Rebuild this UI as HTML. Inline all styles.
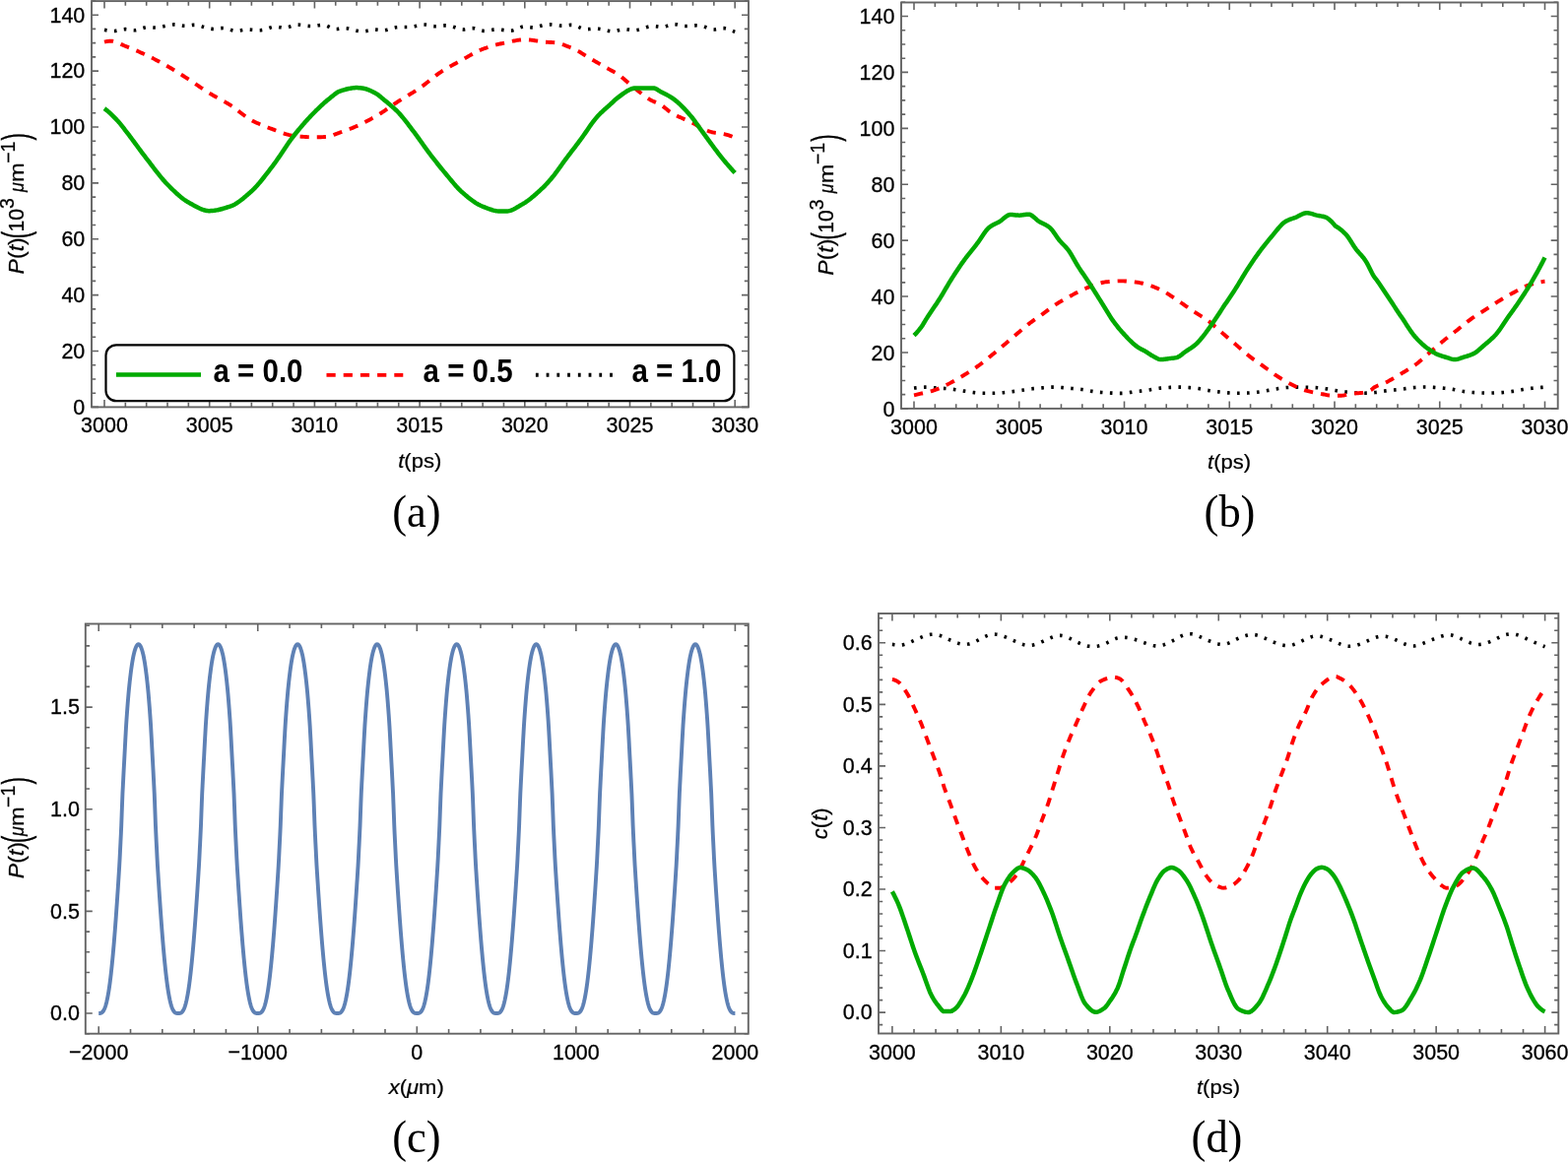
<!DOCTYPE html><html><head><meta charset="utf-8"><title>Figure</title><style>html,body{margin:0;padding:0;background:#fff;overflow:hidden}svg{display:block}</style></head><body><svg width="1592" height="1180" viewBox="0 0 1592 1180" font-family="'Liberation Sans', Arial, sans-serif" font-size="21.5">
<rect width="1592" height="1180" fill="#fff"/>
<path d="M106 413.4v-7.4M106 1.1v7.4M127.34 413.4v-4.6M127.34 1.1v4.6M148.68 413.4v-4.6M148.68 1.1v4.6M170.02 413.4v-4.6M170.02 1.1v4.6M191.36 413.4v-4.6M191.36 1.1v4.6M212.7 413.4v-7.4M212.7 1.1v7.4M234.04 413.4v-4.6M234.04 1.1v4.6M255.38 413.4v-4.6M255.38 1.1v4.6M276.72 413.4v-4.6M276.72 1.1v4.6M298.06 413.4v-4.6M298.06 1.1v4.6M319.4 413.4v-7.4M319.4 1.1v7.4M340.74 413.4v-4.6M340.74 1.1v4.6M362.08 413.4v-4.6M362.08 1.1v4.6M383.42 413.4v-4.6M383.42 1.1v4.6M404.76 413.4v-4.6M404.76 1.1v4.6M426.1 413.4v-7.4M426.1 1.1v7.4M447.44 413.4v-4.6M447.44 1.1v4.6M468.78 413.4v-4.6M468.78 1.1v4.6M490.12 413.4v-4.6M490.12 1.1v4.6M511.46 413.4v-4.6M511.46 1.1v4.6M532.8 413.4v-7.4M532.8 1.1v7.4M554.14 413.4v-4.6M554.14 1.1v4.6M575.48 413.4v-4.6M575.48 1.1v4.6M596.82 413.4v-4.6M596.82 1.1v4.6M618.16 413.4v-4.6M618.16 1.1v4.6M639.5 413.4v-7.4M639.5 1.1v7.4M660.84 413.4v-4.6M660.84 1.1v4.6M682.18 413.4v-4.6M682.18 1.1v4.6M703.52 413.4v-4.6M703.52 1.1v4.6M724.86 413.4v-4.6M724.86 1.1v4.6M746.2 413.4v-7.4M746.2 1.1v7.4M93 413.4h7.0M760 413.4h-7.0M93 399.18h4.2M760 399.18h-4.2M93 384.96h4.2M760 384.96h-4.2M93 370.74h4.2M760 370.74h-4.2M93 356.51h7.0M760 356.51h-7.0M93 342.29h4.2M760 342.29h-4.2M93 328.07h4.2M760 328.07h-4.2M93 313.85h4.2M760 313.85h-4.2M93 299.63h7.0M760 299.63h-7.0M93 285.41h4.2M760 285.41h-4.2M93 271.18h4.2M760 271.18h-4.2M93 256.96h4.2M760 256.96h-4.2M93 242.74h7.0M760 242.74h-7.0M93 228.52h4.2M760 228.52h-4.2M93 214.3h4.2M760 214.3h-4.2M93 200.08h4.2M760 200.08h-4.2M93 185.86h7.0M760 185.86h-7.0M93 171.63h4.2M760 171.63h-4.2M93 157.41h4.2M760 157.41h-4.2M93 143.19h4.2M760 143.19h-4.2M93 128.97h7.0M760 128.97h-7.0M93 114.75h4.2M760 114.75h-4.2M93 100.53h4.2M760 100.53h-4.2M93 86.31h4.2M760 86.31h-4.2M93 72.08h7.0M760 72.08h-7.0M93 57.86h4.2M760 57.86h-4.2M93 43.64h4.2M760 43.64h-4.2M93 29.42h4.2M760 29.42h-4.2M93 15.2h7.0M760 15.2h-7.0M93 0.98h4.2M760 0.98h-4.2" stroke="#646464" stroke-width="1.6" fill="none"/>
<rect x="93" y="1.1" width="667" height="412.3" stroke="#646464" stroke-width="1.9" fill="none"/>
<g stroke="#000" stroke-width="0.3">
<text transform="translate(106,439.3) scale(1.0,1.06)" text-anchor="middle">3000</text>
<text transform="translate(212.7,439.3) scale(1.0,1.06)" text-anchor="middle">3005</text>
<text transform="translate(319.4,439.3) scale(1.0,1.06)" text-anchor="middle">3010</text>
<text transform="translate(426.1,439.3) scale(1.0,1.06)" text-anchor="middle">3015</text>
<text transform="translate(532.8,439.3) scale(1.0,1.06)" text-anchor="middle">3020</text>
<text transform="translate(639.5,439.3) scale(1.0,1.06)" text-anchor="middle">3025</text>
<text transform="translate(746.2,439.3) scale(1.0,1.06)" text-anchor="middle">3030</text>
<text transform="translate(86.3,420.74) scale(1.0,1.06)" text-anchor="end">0</text>
<text transform="translate(86.3,363.85) scale(1.0,1.06)" text-anchor="end">20</text>
<text transform="translate(86.3,306.97) scale(1.0,1.06)" text-anchor="end">40</text>
<text transform="translate(86.3,250.08) scale(1.0,1.06)" text-anchor="end">60</text>
<text transform="translate(86.3,193.2) scale(1.0,1.06)" text-anchor="end">80</text>
<text transform="translate(86.3,136.31) scale(1.0,1.06)" text-anchor="end">100</text>
<text transform="translate(86.3,79.42) scale(1.0,1.06)" text-anchor="end">120</text>
<text transform="translate(86.3,22.54) scale(1.0,1.06)" text-anchor="end">140</text>
</g>
<path d="M928 414.9v-7.4M928 2.5v7.4M949.35 414.9v-4.6M949.35 2.5v4.6M970.7 414.9v-4.6M970.7 2.5v4.6M992.05 414.9v-4.6M992.05 2.5v4.6M1013.4 414.9v-4.6M1013.4 2.5v4.6M1034.75 414.9v-7.4M1034.75 2.5v7.4M1056.1 414.9v-4.6M1056.1 2.5v4.6M1077.45 414.9v-4.6M1077.45 2.5v4.6M1098.8 414.9v-4.6M1098.8 2.5v4.6M1120.15 414.9v-4.6M1120.15 2.5v4.6M1141.5 414.9v-7.4M1141.5 2.5v7.4M1162.85 414.9v-4.6M1162.85 2.5v4.6M1184.2 414.9v-4.6M1184.2 2.5v4.6M1205.55 414.9v-4.6M1205.55 2.5v4.6M1226.9 414.9v-4.6M1226.9 2.5v4.6M1248.25 414.9v-7.4M1248.25 2.5v7.4M1269.6 414.9v-4.6M1269.6 2.5v4.6M1290.95 414.9v-4.6M1290.95 2.5v4.6M1312.3 414.9v-4.6M1312.3 2.5v4.6M1333.65 414.9v-4.6M1333.65 2.5v4.6M1355 414.9v-7.4M1355 2.5v7.4M1376.35 414.9v-4.6M1376.35 2.5v4.6M1397.7 414.9v-4.6M1397.7 2.5v4.6M1419.05 414.9v-4.6M1419.05 2.5v4.6M1440.4 414.9v-4.6M1440.4 2.5v4.6M1461.75 414.9v-7.4M1461.75 2.5v7.4M1483.1 414.9v-4.6M1483.1 2.5v4.6M1504.45 414.9v-4.6M1504.45 2.5v4.6M1525.8 414.9v-4.6M1525.8 2.5v4.6M1547.15 414.9v-4.6M1547.15 2.5v4.6M1568.5 414.9v-7.4M1568.5 2.5v7.4M915 414.9h7.0M1581.7 414.9h-7.0M915 400.67h4.2M1581.7 400.67h-4.2M915 386.44h4.2M1581.7 386.44h-4.2M915 372.21h4.2M1581.7 372.21h-4.2M915 357.99h7.0M1581.7 357.99h-7.0M915 343.76h4.2M1581.7 343.76h-4.2M915 329.53h4.2M1581.7 329.53h-4.2M915 315.3h4.2M1581.7 315.3h-4.2M915 301.07h7.0M1581.7 301.07h-7.0M915 286.84h4.2M1581.7 286.84h-4.2M915 272.62h4.2M1581.7 272.62h-4.2M915 258.39h4.2M1581.7 258.39h-4.2M915 244.16h7.0M1581.7 244.16h-7.0M915 229.93h4.2M1581.7 229.93h-4.2M915 215.7h4.2M1581.7 215.7h-4.2M915 201.47h4.2M1581.7 201.47h-4.2M915 187.24h7.0M1581.7 187.24h-7.0M915 173.02h4.2M1581.7 173.02h-4.2M915 158.79h4.2M1581.7 158.79h-4.2M915 144.56h4.2M1581.7 144.56h-4.2M915 130.33h7.0M1581.7 130.33h-7.0M915 116.1h4.2M1581.7 116.1h-4.2M915 101.87h4.2M1581.7 101.87h-4.2M915 87.64h4.2M1581.7 87.64h-4.2M915 73.42h7.0M1581.7 73.42h-7.0M915 59.19h4.2M1581.7 59.19h-4.2M915 44.96h4.2M1581.7 44.96h-4.2M915 30.73h4.2M1581.7 30.73h-4.2M915 16.5h7.0M1581.7 16.5h-7.0M915 2.27h4.2M1581.7 2.27h-4.2" stroke="#646464" stroke-width="1.6" fill="none"/>
<rect x="915" y="2.5" width="666.7" height="412.4" stroke="#646464" stroke-width="1.9" fill="none"/>
<g stroke="#000" stroke-width="0.3">
<text transform="translate(928,440.9) scale(1.0,1.06)" text-anchor="middle">3000</text>
<text transform="translate(1034.75,440.9) scale(1.0,1.06)" text-anchor="middle">3005</text>
<text transform="translate(1141.5,440.9) scale(1.0,1.06)" text-anchor="middle">3010</text>
<text transform="translate(1248.25,440.9) scale(1.0,1.06)" text-anchor="middle">3015</text>
<text transform="translate(1355,440.9) scale(1.0,1.06)" text-anchor="middle">3020</text>
<text transform="translate(1461.75,440.9) scale(1.0,1.06)" text-anchor="middle">3025</text>
<text transform="translate(1568.5,440.9) scale(1.0,1.06)" text-anchor="middle">3030</text>
<text transform="translate(908.4,422.84) scale(1.0,1.06)" text-anchor="end">0</text>
<text transform="translate(908.4,365.93) scale(1.0,1.06)" text-anchor="end">20</text>
<text transform="translate(908.4,309.01) scale(1.0,1.06)" text-anchor="end">40</text>
<text transform="translate(908.4,252.1) scale(1.0,1.06)" text-anchor="end">60</text>
<text transform="translate(908.4,195.18) scale(1.0,1.06)" text-anchor="end">80</text>
<text transform="translate(908.4,138.27) scale(1.0,1.06)" text-anchor="end">100</text>
<text transform="translate(908.4,81.36) scale(1.0,1.06)" text-anchor="end">120</text>
<text transform="translate(908.4,24.44) scale(1.0,1.06)" text-anchor="end">140</text>
</g>
<path d="M100.2 1049.7v-7.4M100.2 633.5v7.4M132.51 1049.7v-4.6M132.51 633.5v4.6M164.82 1049.7v-4.6M164.82 633.5v4.6M197.13 1049.7v-4.6M197.13 633.5v4.6M229.44 1049.7v-4.6M229.44 633.5v4.6M261.75 1049.7v-7.4M261.75 633.5v7.4M294.06 1049.7v-4.6M294.06 633.5v4.6M326.37 1049.7v-4.6M326.37 633.5v4.6M358.68 1049.7v-4.6M358.68 633.5v4.6M390.99 1049.7v-4.6M390.99 633.5v4.6M423.3 1049.7v-7.4M423.3 633.5v7.4M455.61 1049.7v-4.6M455.61 633.5v4.6M487.92 1049.7v-4.6M487.92 633.5v4.6M520.23 1049.7v-4.6M520.23 633.5v4.6M552.54 1049.7v-4.6M552.54 633.5v4.6M584.85 1049.7v-7.4M584.85 633.5v7.4M617.16 1049.7v-4.6M617.16 633.5v4.6M649.47 1049.7v-4.6M649.47 633.5v4.6M681.78 1049.7v-4.6M681.78 633.5v4.6M714.09 1049.7v-4.6M714.09 633.5v4.6M746.4 1049.7v-7.4M746.4 633.5v7.4M86.8 1049.73h4.2M759.8 1049.73h-4.2M86.8 1029h7.0M759.8 1029h-7.0M86.8 1008.27h4.2M759.8 1008.27h-4.2M86.8 987.55h4.2M759.8 987.55h-4.2M86.8 966.82h4.2M759.8 966.82h-4.2M86.8 946.09h4.2M759.8 946.09h-4.2M86.8 925.37h7.0M759.8 925.37h-7.0M86.8 904.64h4.2M759.8 904.64h-4.2M86.8 883.91h4.2M759.8 883.91h-4.2M86.8 863.18h4.2M759.8 863.18h-4.2M86.8 842.46h4.2M759.8 842.46h-4.2M86.8 821.73h7.0M759.8 821.73h-7.0M86.8 801h4.2M759.8 801h-4.2M86.8 780.28h4.2M759.8 780.28h-4.2M86.8 759.55h4.2M759.8 759.55h-4.2M86.8 738.82h4.2M759.8 738.82h-4.2M86.8 718.1h7.0M759.8 718.1h-7.0M86.8 697.37h4.2M759.8 697.37h-4.2M86.8 676.64h4.2M759.8 676.64h-4.2M86.8 655.91h4.2M759.8 655.91h-4.2M86.8 635.19h4.2M759.8 635.19h-4.2" stroke="#646464" stroke-width="1.6" fill="none"/>
<rect x="86.8" y="633.5" width="673" height="416.2" stroke="#646464" stroke-width="1.9" fill="none"/>
<g stroke="#000" stroke-width="0.3">
<text transform="translate(100.2,1076) scale(1.0,1.06)" text-anchor="middle">−2000</text>
<text transform="translate(261.75,1076) scale(1.0,1.06)" text-anchor="middle">−1000</text>
<text transform="translate(423.3,1076) scale(1.0,1.06)" text-anchor="middle">0</text>
<text transform="translate(584.85,1076) scale(1.0,1.06)" text-anchor="middle">1000</text>
<text transform="translate(746.4,1076) scale(1.0,1.06)" text-anchor="middle">2000</text>
<text transform="translate(80.9,1036.34) scale(1.0,1.06)" text-anchor="end">0.0</text>
<text transform="translate(80.9,932.7) scale(1.0,1.06)" text-anchor="end">0.5</text>
<text transform="translate(80.9,829.07) scale(1.0,1.06)" text-anchor="end">1.0</text>
<text transform="translate(80.9,725.43) scale(1.0,1.06)" text-anchor="end">1.5</text>
</g>
<path d="M905.9 1049.5v-7.4M905.9 623v7.4M927.99 1049.5v-4.6M927.99 623v4.6M950.08 1049.5v-4.6M950.08 623v4.6M972.17 1049.5v-4.6M972.17 623v4.6M994.26 1049.5v-4.6M994.26 623v4.6M1016.35 1049.5v-7.4M1016.35 623v7.4M1038.44 1049.5v-4.6M1038.44 623v4.6M1060.53 1049.5v-4.6M1060.53 623v4.6M1082.62 1049.5v-4.6M1082.62 623v4.6M1104.71 1049.5v-4.6M1104.71 623v4.6M1126.8 1049.5v-7.4M1126.8 623v7.4M1148.89 1049.5v-4.6M1148.89 623v4.6M1170.98 1049.5v-4.6M1170.98 623v4.6M1193.07 1049.5v-4.6M1193.07 623v4.6M1215.16 1049.5v-4.6M1215.16 623v4.6M1237.25 1049.5v-7.4M1237.25 623v7.4M1259.34 1049.5v-4.6M1259.34 623v4.6M1281.43 1049.5v-4.6M1281.43 623v4.6M1303.52 1049.5v-4.6M1303.52 623v4.6M1325.61 1049.5v-4.6M1325.61 623v4.6M1347.7 1049.5v-7.4M1347.7 623v7.4M1369.79 1049.5v-4.6M1369.79 623v4.6M1391.88 1049.5v-4.6M1391.88 623v4.6M1413.97 1049.5v-4.6M1413.97 623v4.6M1436.06 1049.5v-4.6M1436.06 623v4.6M1458.15 1049.5v-7.4M1458.15 623v7.4M1480.24 1049.5v-4.6M1480.24 623v4.6M1502.33 1049.5v-4.6M1502.33 623v4.6M1524.42 1049.5v-4.6M1524.42 623v4.6M1546.51 1049.5v-4.6M1546.51 623v4.6M1568.6 1049.5v-7.4M1568.6 623v7.4M892 1040.61h4.2M1582.3 1040.61h-4.2M892 1028.1h7.0M1582.3 1028.1h-7.0M892 1015.59h4.2M1582.3 1015.59h-4.2M892 1003.08h4.2M1582.3 1003.08h-4.2M892 990.57h4.2M1582.3 990.57h-4.2M892 978.06h4.2M1582.3 978.06h-4.2M892 965.55h7.0M1582.3 965.55h-7.0M892 953.04h4.2M1582.3 953.04h-4.2M892 940.53h4.2M1582.3 940.53h-4.2M892 928.02h4.2M1582.3 928.02h-4.2M892 915.51h4.2M1582.3 915.51h-4.2M892 903h7.0M1582.3 903h-7.0M892 890.49h4.2M1582.3 890.49h-4.2M892 877.98h4.2M1582.3 877.98h-4.2M892 865.47h4.2M1582.3 865.47h-4.2M892 852.96h4.2M1582.3 852.96h-4.2M892 840.45h7.0M1582.3 840.45h-7.0M892 827.94h4.2M1582.3 827.94h-4.2M892 815.43h4.2M1582.3 815.43h-4.2M892 802.92h4.2M1582.3 802.92h-4.2M892 790.41h4.2M1582.3 790.41h-4.2M892 777.9h7.0M1582.3 777.9h-7.0M892 765.39h4.2M1582.3 765.39h-4.2M892 752.88h4.2M1582.3 752.88h-4.2M892 740.37h4.2M1582.3 740.37h-4.2M892 727.86h4.2M1582.3 727.86h-4.2M892 715.35h7.0M1582.3 715.35h-7.0M892 702.84h4.2M1582.3 702.84h-4.2M892 690.33h4.2M1582.3 690.33h-4.2M892 677.82h4.2M1582.3 677.82h-4.2M892 665.31h4.2M1582.3 665.31h-4.2M892 652.8h7.0M1582.3 652.8h-7.0M892 640.29h4.2M1582.3 640.29h-4.2M892 627.78h4.2M1582.3 627.78h-4.2" stroke="#646464" stroke-width="1.6" fill="none"/>
<rect x="892" y="623" width="690.3" height="426.5" stroke="#646464" stroke-width="1.9" fill="none"/>
<g stroke="#000" stroke-width="0.3">
<text transform="translate(905.9,1076) scale(1.0,1.06)" text-anchor="middle">3000</text>
<text transform="translate(1016.35,1076) scale(1.0,1.06)" text-anchor="middle">3010</text>
<text transform="translate(1126.8,1076) scale(1.0,1.06)" text-anchor="middle">3020</text>
<text transform="translate(1237.25,1076) scale(1.0,1.06)" text-anchor="middle">3030</text>
<text transform="translate(1347.7,1076) scale(1.0,1.06)" text-anchor="middle">3040</text>
<text transform="translate(1458.15,1076) scale(1.0,1.06)" text-anchor="middle">3050</text>
<text transform="translate(1568.6,1076) scale(1.0,1.06)" text-anchor="middle">3060</text>
<text transform="translate(885.7,1035.44) scale(1.0,1.06)" text-anchor="end">0.0</text>
<text transform="translate(885.7,972.89) scale(1.0,1.06)" text-anchor="end">0.1</text>
<text transform="translate(885.7,910.34) scale(1.0,1.06)" text-anchor="end">0.2</text>
<text transform="translate(885.7,847.79) scale(1.0,1.06)" text-anchor="end">0.3</text>
<text transform="translate(885.7,785.24) scale(1.0,1.06)" text-anchor="end">0.4</text>
<text transform="translate(885.7,722.69) scale(1.0,1.06)" text-anchor="end">0.5</text>
<text transform="translate(885.7,660.14) scale(1.0,1.06)" text-anchor="end">0.6</text>
</g>
<path d="M106.00 30.39 L107.00 30.58 L108.00 30.76 L109.00 30.94 L110.00 31.10 L111.00 31.25 L112.00 31.37 L113.00 31.45 L114.00 31.50 L115.00 31.51 L116.00 31.46 L117.00 31.36 L118.00 31.20 L119.00 31.01 L120.00 30.80 L121.00 30.57 L122.00 30.34 L123.00 30.12 L124.00 29.93 L125.00 29.78 L126.00 29.68 L127.00 29.64 L128.00 29.67 L129.00 29.76 L130.00 29.90 L131.00 30.07 L132.00 30.26 L133.00 30.44 L134.00 30.59 L135.00 30.71 L136.00 30.77 L137.00 30.77 L138.00 30.67 L139.00 30.50 L140.00 30.25 L141.00 29.96 L142.00 29.64 L143.00 29.30 L144.00 28.95 L145.00 28.63 L146.00 28.34 L147.00 28.09 L148.00 27.91 L149.00 27.80 L150.00 27.75 L151.00 27.74 L152.00 27.76 L153.00 27.80 L154.00 27.86 L155.00 27.92 L156.00 27.97 L157.00 27.99 L158.00 27.99 L159.00 27.94 L160.00 27.86 L161.00 27.75 L162.00 27.61 L163.00 27.45 L164.00 27.26 L165.00 27.06 L166.00 26.84 L167.00 26.61 L168.00 26.38 L169.00 26.14 L170.00 25.91 L171.00 25.68 L172.00 25.47 L173.00 25.28 L174.00 25.13 L175.00 25.00 L176.00 24.92 L177.00 24.89 L178.00 24.91 L179.00 24.99 L180.00 25.11 L181.00 25.27 L182.00 25.45 L183.00 25.65 L184.00 25.83 L185.00 26.01 L186.00 26.15 L187.00 26.25 L188.00 26.30 L189.00 26.29 L190.00 26.22 L191.00 26.10 L192.00 25.96 L193.00 25.81 L194.00 25.65 L195.00 25.51 L196.00 25.40 L197.00 25.34 L198.00 25.33 L199.00 25.39 L200.00 25.52 L201.00 25.71 L202.00 25.96 L203.00 26.24 L204.00 26.55 L205.00 26.87 L206.00 27.21 L207.00 27.55 L208.00 27.88 L209.00 28.18 L210.00 28.46 L211.00 28.71 L212.00 28.93 L213.00 29.11 L214.00 29.25 L215.00 29.36 L216.00 29.42 L217.00 29.44 L218.00 29.41 L219.00 29.34 L220.00 29.22 L221.00 29.09 L222.00 28.94 L223.00 28.80 L224.00 28.67 L225.00 28.58 L226.00 28.52 L227.00 28.53 L228.00 28.60 L229.00 28.75 L230.00 28.98 L231.00 29.26 L232.00 29.58 L233.00 29.92 L234.00 30.26 L235.00 30.59 L236.00 30.89 L237.00 31.14 L238.00 31.32 L239.00 31.42 L240.00 31.44 L241.00 31.39 L242.00 31.29 L243.00 31.14 L244.00 30.97 L245.00 30.78 L246.00 30.59 L247.00 30.41 L248.00 30.26 L249.00 30.15 L250.00 30.08 L251.00 30.05 L252.00 30.05 L253.00 30.08 L254.00 30.13 L255.00 30.19 L256.00 30.27 L257.00 30.36 L258.00 30.45 L259.00 30.53 L260.00 30.60 L261.00 30.65 L262.00 30.69 L263.00 30.70 L264.00 30.68 L265.00 30.63 L266.00 30.53 L267.00 30.40 L268.00 30.21 L269.00 29.96 L270.00 29.67 L271.00 29.33 L272.00 28.96 L273.00 28.59 L274.00 28.22 L275.00 27.87 L276.00 27.57 L277.00 27.31 L278.00 27.13 L279.00 27.03 L280.00 27.03 L281.00 27.11 L282.00 27.25 L283.00 27.44 L284.00 27.65 L285.00 27.86 L286.00 28.05 L287.00 28.19 L288.00 28.28 L289.00 28.29 L290.00 28.20 L291.00 28.01 L292.00 27.75 L293.00 27.44 L294.00 27.09 L295.00 26.72 L296.00 26.35 L297.00 26.01 L298.00 25.69 L299.00 25.44 L300.00 25.26 L301.00 25.15 L302.00 25.11 L303.00 25.13 L304.00 25.20 L305.00 25.30 L306.00 25.43 L307.00 25.59 L308.00 25.75 L309.00 25.91 L310.00 26.06 L311.00 26.20 L312.00 26.32 L313.00 26.42 L314.00 26.49 L315.00 26.54 L316.00 26.56 L317.00 26.55 L318.00 26.51 L319.00 26.43 L320.00 26.32 L321.00 26.17 L322.00 25.99 L323.00 25.82 L324.00 25.65 L325.00 25.50 L326.00 25.39 L327.00 25.34 L328.00 25.35 L329.00 25.45 L330.00 25.64 L331.00 25.94 L332.00 26.33 L333.00 26.77 L334.00 27.24 L335.00 27.73 L336.00 28.19 L337.00 28.62 L338.00 28.99 L339.00 29.26 L340.00 29.42 L341.00 29.49 L342.00 29.47 L343.00 29.39 L344.00 29.27 L345.00 29.12 L346.00 28.96 L347.00 28.81 L348.00 28.69 L349.00 28.61 L350.00 28.60 L351.00 28.65 L352.00 28.75 L353.00 28.91 L354.00 29.10 L355.00 29.32 L356.00 29.57 L357.00 29.84 L358.00 30.11 L359.00 30.38 L360.00 30.65 L361.00 30.91 L362.00 31.14 L363.00 31.36 L364.00 31.55 L365.00 31.70 L366.00 31.81 L367.00 31.89 L368.00 31.91 L369.00 31.88 L370.00 31.79 L371.00 31.65 L372.00 31.47 L373.00 31.25 L374.00 31.02 L375.00 30.79 L376.00 30.56 L377.00 30.36 L378.00 30.20 L379.00 30.08 L380.00 30.03 L381.00 30.04 L382.00 30.11 L383.00 30.21 L384.00 30.34 L385.00 30.47 L386.00 30.60 L387.00 30.71 L388.00 30.79 L389.00 30.81 L390.00 30.77 L391.00 30.65 L392.00 30.47 L393.00 30.24 L394.00 29.96 L395.00 29.66 L396.00 29.34 L397.00 29.02 L398.00 28.71 L399.00 28.43 L400.00 28.17 L401.00 27.96 L402.00 27.80 L403.00 27.67 L404.00 27.58 L405.00 27.51 L406.00 27.47 L407.00 27.45 L408.00 27.44 L409.00 27.44 L410.00 27.45 L411.00 27.45 L412.00 27.45 L413.00 27.43 L414.00 27.41 L415.00 27.37 L416.00 27.32 L417.00 27.24 L418.00 27.14 L419.00 27.01 L420.00 26.85 L421.00 26.66 L422.00 26.43 L423.00 26.19 L424.00 25.94 L425.00 25.70 L426.00 25.47 L427.00 25.27 L428.00 25.11 L429.00 24.99 L430.00 24.94 L431.00 24.96 L432.00 25.05 L433.00 25.20 L434.00 25.39 L435.00 25.61 L436.00 25.84 L437.00 26.08 L438.00 26.30 L439.00 26.49 L440.00 26.64 L441.00 26.73 L442.00 26.76 L443.00 26.73 L444.00 26.66 L445.00 26.56 L446.00 26.43 L447.00 26.30 L448.00 26.17 L449.00 26.05 L450.00 25.95 L451.00 25.89 L452.00 25.88 L453.00 25.90 L454.00 25.97 L455.00 26.08 L456.00 26.23 L457.00 26.42 L458.00 26.64 L459.00 26.89 L460.00 27.17 L461.00 27.48 L462.00 27.82 L463.00 28.17 L464.00 28.52 L465.00 28.86 L466.00 29.18 L467.00 29.46 L468.00 29.68 L469.00 29.84 L470.00 29.93 L471.00 29.92 L472.00 29.84 L473.00 29.70 L474.00 29.51 L475.00 29.31 L476.00 29.10 L477.00 28.91 L478.00 28.76 L479.00 28.66 L480.00 28.65 L481.00 28.72 L482.00 28.89 L483.00 29.14 L484.00 29.44 L485.00 29.77 L486.00 30.12 L487.00 30.46 L488.00 30.78 L489.00 31.06 L490.00 31.27 L491.00 31.40 L492.00 31.45 L493.00 31.42 L494.00 31.34 L495.00 31.20 L496.00 31.03 L497.00 30.85 L498.00 30.65 L499.00 30.46 L500.00 30.29 L501.00 30.15 L502.00 30.06 L503.00 30.00 L504.00 29.98 L505.00 29.99 L506.00 30.03 L507.00 30.10 L508.00 30.18 L509.00 30.29 L510.00 30.41 L511.00 30.55 L512.00 30.69 L513.00 30.83 L514.00 30.96 L515.00 31.08 L516.00 31.16 L517.00 31.20 L518.00 31.19 L519.00 31.13 L520.00 31.00 L521.00 30.79 L522.00 30.50 L523.00 30.14 L524.00 29.73 L525.00 29.29 L526.00 28.84 L527.00 28.39 L528.00 27.97 L529.00 27.60 L530.00 27.30 L531.00 27.08 L532.00 26.96 L533.00 26.94 L534.00 27.00 L535.00 27.11 L536.00 27.26 L537.00 27.43 L538.00 27.60 L539.00 27.75 L540.00 27.86 L541.00 27.91 L542.00 27.88 L543.00 27.77 L544.00 27.60 L545.00 27.38 L546.00 27.11 L547.00 26.82 L548.00 26.51 L549.00 26.21 L550.00 25.91 L551.00 25.64 L552.00 25.41 L553.00 25.22 L554.00 25.08 L555.00 24.97 L556.00 24.91 L557.00 24.87 L558.00 24.87 L559.00 24.90 L560.00 24.96 L561.00 25.05 L562.00 25.15 L563.00 25.28 L564.00 25.42 L565.00 25.56 L566.00 25.70 L567.00 25.84 L568.00 25.95 L569.00 26.05 L570.00 26.12 L571.00 26.15 L572.00 26.13 L573.00 26.07 L574.00 25.97 L575.00 25.84 L576.00 25.71 L577.00 25.58 L578.00 25.47 L579.00 25.40 L580.00 25.37 L581.00 25.41 L582.00 25.52 L583.00 25.73 L584.00 26.01 L585.00 26.37 L586.00 26.78 L587.00 27.21 L588.00 27.66 L589.00 28.10 L590.00 28.52 L591.00 28.89 L592.00 29.20 L593.00 29.43 L594.00 29.58 L595.00 29.66 L596.00 29.67 L597.00 29.64 L598.00 29.57 L599.00 29.48 L600.00 29.38 L601.00 29.28 L602.00 29.20 L603.00 29.14 L604.00 29.11 L605.00 29.11 L606.00 29.15 L607.00 29.21 L608.00 29.31 L609.00 29.43 L610.00 29.58 L611.00 29.75 L612.00 29.95 L613.00 30.17 L614.00 30.41 L615.00 30.66 L616.00 30.91 L617.00 31.15 L618.00 31.37 L619.00 31.56 L620.00 31.71 L621.00 31.80 L622.00 31.84 L623.00 31.80 L624.00 31.69 L625.00 31.50 L626.00 31.27 L627.00 31.01 L628.00 30.73 L629.00 30.45 L630.00 30.19 L631.00 29.96 L632.00 29.78 L633.00 29.67 L634.00 29.63 L635.00 29.67 L636.00 29.77 L637.00 29.92 L638.00 30.09 L639.00 30.27 L640.00 30.44 L641.00 30.60 L642.00 30.72 L643.00 30.79 L644.00 30.79 L645.00 30.72 L646.00 30.59 L647.00 30.41 L648.00 30.18 L649.00 29.92 L650.00 29.63 L651.00 29.32 L652.00 28.99 L653.00 28.67 L654.00 28.34 L655.00 28.03 L656.00 27.73 L657.00 27.46 L658.00 27.21 L659.00 26.99 L660.00 26.81 L661.00 26.67 L662.00 26.58 L663.00 26.54 L664.00 26.55 L665.00 26.63 L666.00 26.74 L667.00 26.88 L668.00 27.03 L669.00 27.17 L670.00 27.29 L671.00 27.38 L672.00 27.41 L673.00 27.37 L674.00 27.25 L675.00 27.03 L676.00 26.75 L677.00 26.41 L678.00 26.04 L679.00 25.67 L680.00 25.32 L681.00 25.01 L682.00 24.77 L683.00 24.61 L684.00 24.55 L685.00 24.59 L686.00 24.70 L687.00 24.88 L688.00 25.10 L689.00 25.35 L690.00 25.61 L691.00 25.86 L692.00 26.09 L693.00 26.29 L694.00 26.43 L695.00 26.51 L696.00 26.55 L697.00 26.55 L698.00 26.51 L699.00 26.45 L700.00 26.37 L701.00 26.28 L702.00 26.18 L703.00 26.08 L704.00 25.98 L705.00 25.90 L706.00 25.84 L707.00 25.81 L708.00 25.80 L709.00 25.83 L710.00 25.90 L711.00 26.01 L712.00 26.18 L713.00 26.40 L714.00 26.69 L715.00 27.03 L716.00 27.41 L717.00 27.82 L718.00 28.24 L719.00 28.64 L720.00 29.02 L721.00 29.36 L722.00 29.64 L723.00 29.83 L724.00 29.94 L725.00 29.95 L726.00 29.87 L727.00 29.73 L728.00 29.55 L729.00 29.35 L730.00 29.13 L731.00 28.94 L732.00 28.77 L733.00 28.65 L734.00 28.61 L735.00 28.65 L736.00 28.76 L737.00 28.95 L738.00 29.19 L739.00 29.49 L740.00 29.83 L741.00 30.21 L742.00 30.61 L743.00 31.03 L744.00 31.46 L745.00 31.89 L746.00 32.31 L746.20 32.39" stroke="#000" stroke-width="3.6" fill="none" stroke-linejoin="round" stroke-linecap="butt" stroke-dasharray="2.6 7.4"/>
<path d="M106.00 42.64 L107.00 42.37 L108.00 42.15 L109.00 41.98 L110.00 41.85 L111.00 41.77 L112.00 41.71 L113.00 41.69 L114.00 41.72 L115.00 41.83 L116.00 42.03 L117.00 42.30 L118.00 42.64 L119.00 43.03 L120.00 43.46 L121.00 43.92 L122.00 44.40 L123.00 44.89 L124.00 45.37 L125.00 45.85 L126.00 46.30 L127.00 46.72 L128.00 47.12 L129.00 47.52 L130.00 47.92 L131.00 48.32 L132.00 48.72 L133.00 49.13 L134.00 49.54 L135.00 49.96 L136.00 50.38 L137.00 50.80 L138.00 51.23 L139.00 51.65 L140.00 52.09 L141.00 52.52 L142.00 52.97 L143.00 53.41 L144.00 53.86 L145.00 54.31 L146.00 54.77 L147.00 55.23 L148.00 55.70 L149.00 56.17 L150.00 56.65 L151.00 57.13 L152.00 57.62 L153.00 58.11 L154.00 58.61 L155.00 59.11 L156.00 59.62 L157.00 60.14 L158.00 60.66 L159.00 61.18 L160.00 61.71 L161.00 62.24 L162.00 62.77 L163.00 63.31 L164.00 63.86 L165.00 64.41 L166.00 64.96 L167.00 65.51 L168.00 66.07 L169.00 66.64 L170.00 67.20 L171.00 67.78 L172.00 68.36 L173.00 68.94 L174.00 69.53 L175.00 70.13 L176.00 70.74 L177.00 71.35 L178.00 71.96 L179.00 72.58 L180.00 73.20 L181.00 73.83 L182.00 74.46 L183.00 75.09 L184.00 75.72 L185.00 76.36 L186.00 77.00 L187.00 77.64 L188.00 78.28 L189.00 78.92 L190.00 79.56 L191.00 80.21 L192.00 80.85 L193.00 81.51 L194.00 82.17 L195.00 82.83 L196.00 83.51 L197.00 84.19 L198.00 84.87 L199.00 85.55 L200.00 86.24 L201.00 86.92 L202.00 87.61 L203.00 88.29 L204.00 88.98 L205.00 89.65 L206.00 90.33 L207.00 91.00 L208.00 91.66 L209.00 92.32 L210.00 92.96 L211.00 93.60 L212.00 94.23 L213.00 94.84 L214.00 95.45 L215.00 96.04 L216.00 96.62 L217.00 97.19 L218.00 97.75 L219.00 98.31 L220.00 98.86 L221.00 99.41 L222.00 99.95 L223.00 100.49 L224.00 101.04 L225.00 101.59 L226.00 102.14 L227.00 102.69 L228.00 103.25 L229.00 103.82 L230.00 104.40 L231.00 104.99 L232.00 105.59 L233.00 106.20 L234.00 106.83 L235.00 107.49 L236.00 108.17 L237.00 108.87 L238.00 109.60 L239.00 110.34 L240.00 111.10 L241.00 111.87 L242.00 112.65 L243.00 113.43 L244.00 114.21 L245.00 114.99 L246.00 115.76 L247.00 116.52 L248.00 117.28 L249.00 118.01 L250.00 118.72 L251.00 119.42 L252.00 120.08 L253.00 120.72 L254.00 121.32 L255.00 121.88 L256.00 122.42 L257.00 122.94 L258.00 123.44 L259.00 123.94 L260.00 124.42 L261.00 124.89 L262.00 125.35 L263.00 125.80 L264.00 126.24 L265.00 126.67 L266.00 127.09 L267.00 127.50 L268.00 127.91 L269.00 128.31 L270.00 128.70 L271.00 129.09 L272.00 129.47 L273.00 129.85 L274.00 130.22 L275.00 130.59 L276.00 130.95 L277.00 131.32 L278.00 131.69 L279.00 132.07 L280.00 132.45 L281.00 132.84 L282.00 133.22 L283.00 133.61 L284.00 133.99 L285.00 134.37 L286.00 134.74 L287.00 135.10 L288.00 135.45 L289.00 135.79 L290.00 136.11 L291.00 136.42 L292.00 136.70 L293.00 136.97 L294.00 137.21 L295.00 137.42 L296.00 137.61 L297.00 137.77 L298.00 137.89 L299.00 138.00 L300.00 138.11 L301.00 138.21 L302.00 138.31 L303.00 138.41 L304.00 138.51 L305.00 138.60 L306.00 138.69 L307.00 138.77 L308.00 138.85 L309.00 138.92 L310.00 138.99 L311.00 139.05 L312.00 139.11 L313.00 139.16 L314.00 139.20 L315.00 139.24 L316.00 139.27 L317.00 139.29 L318.00 139.31 L319.00 139.31 L320.00 139.31 L321.00 139.30 L322.00 139.29 L323.00 139.28 L324.00 139.25 L325.00 139.22 L326.00 139.19 L327.00 139.15 L328.00 139.10 L329.00 139.05 L330.00 138.99 L331.00 138.92 L332.00 138.85 L333.00 138.77 L334.00 138.69 L335.00 138.60 L336.00 138.40 L337.00 138.04 L338.00 137.57 L339.00 137.06 L340.00 136.56 L341.00 136.14 L342.00 135.75 L343.00 135.37 L344.00 134.99 L345.00 134.62 L346.00 134.25 L347.00 133.89 L348.00 133.52 L349.00 133.16 L350.00 132.80 L351.00 132.44 L352.00 132.08 L353.00 131.72 L354.00 131.35 L355.00 130.98 L356.00 130.60 L357.00 130.21 L358.00 129.82 L359.00 129.42 L360.00 129.01 L361.00 128.58 L362.00 128.15 L363.00 127.70 L364.00 127.25 L365.00 126.78 L366.00 126.31 L367.00 125.83 L368.00 125.34 L369.00 124.84 L370.00 124.34 L371.00 123.83 L372.00 123.30 L373.00 122.78 L374.00 122.24 L375.00 121.70 L376.00 121.16 L377.00 120.60 L378.00 120.05 L379.00 119.48 L380.00 118.91 L381.00 118.34 L382.00 117.76 L383.00 117.18 L384.00 116.59 L385.00 115.98 L386.00 115.36 L387.00 114.73 L388.00 114.08 L389.00 113.43 L390.00 112.76 L391.00 112.09 L392.00 111.40 L393.00 110.72 L394.00 110.03 L395.00 109.33 L396.00 108.64 L397.00 107.94 L398.00 107.25 L399.00 106.56 L400.00 105.87 L401.00 105.19 L402.00 104.52 L403.00 103.85 L404.00 103.19 L405.00 102.55 L406.00 101.92 L407.00 101.29 L408.00 100.67 L409.00 100.06 L410.00 99.45 L411.00 98.85 L412.00 98.25 L413.00 97.66 L414.00 97.06 L415.00 96.46 L416.00 95.87 L417.00 95.27 L418.00 94.66 L419.00 94.05 L420.00 93.44 L421.00 92.82 L422.00 92.19 L423.00 91.55 L424.00 90.90 L425.00 90.24 L426.00 89.56 L427.00 88.87 L428.00 88.15 L429.00 87.42 L430.00 86.67 L431.00 85.90 L432.00 85.12 L433.00 84.32 L434.00 83.52 L435.00 82.72 L436.00 81.91 L437.00 81.10 L438.00 80.29 L439.00 79.49 L440.00 78.69 L441.00 77.91 L442.00 77.13 L443.00 76.37 L444.00 75.63 L445.00 74.90 L446.00 74.20 L447.00 73.52 L448.00 72.87 L449.00 72.23 L450.00 71.60 L451.00 70.98 L452.00 70.38 L453.00 69.78 L454.00 69.19 L455.00 68.61 L456.00 68.04 L457.00 67.47 L458.00 66.91 L459.00 66.35 L460.00 65.80 L461.00 65.26 L462.00 64.71 L463.00 64.17 L464.00 63.63 L465.00 63.09 L466.00 62.55 L467.00 62.00 L468.00 61.46 L469.00 60.92 L470.00 60.36 L471.00 59.80 L472.00 59.23 L473.00 58.66 L474.00 58.09 L475.00 57.51 L476.00 56.93 L477.00 56.36 L478.00 55.79 L479.00 55.23 L480.00 54.67 L481.00 54.12 L482.00 53.59 L483.00 53.06 L484.00 52.55 L485.00 52.06 L486.00 51.58 L487.00 51.13 L488.00 50.69 L489.00 50.28 L490.00 49.89 L491.00 49.53 L492.00 49.17 L493.00 48.82 L494.00 48.47 L495.00 48.14 L496.00 47.81 L497.00 47.49 L498.00 47.18 L499.00 46.88 L500.00 46.59 L501.00 46.30 L502.00 46.02 L503.00 45.75 L504.00 45.48 L505.00 45.23 L506.00 44.98 L507.00 44.73 L508.00 44.50 L509.00 44.27 L510.00 44.05 L511.00 43.84 L512.00 43.63 L513.00 43.42 L514.00 43.20 L515.00 42.98 L516.00 42.76 L517.00 42.54 L518.00 42.32 L519.00 42.10 L520.00 41.89 L521.00 41.68 L522.00 41.49 L523.00 41.30 L524.00 41.12 L525.00 40.95 L526.00 40.80 L527.00 40.67 L528.00 40.55 L529.00 40.45 L530.00 40.37 L531.00 40.31 L532.00 40.28 L533.00 40.27 L534.00 40.28 L535.00 40.32 L536.00 40.38 L537.00 40.46 L538.00 40.55 L539.00 40.66 L540.00 40.78 L541.00 40.91 L542.00 41.05 L543.00 41.20 L544.00 41.35 L545.00 41.50 L546.00 41.66 L547.00 41.81 L548.00 41.96 L549.00 42.11 L550.00 42.25 L551.00 42.38 L552.00 42.49 L553.00 42.60 L554.00 42.69 L555.00 42.76 L556.00 42.83 L557.00 42.88 L558.00 42.93 L559.00 42.98 L560.00 43.03 L561.00 43.08 L562.00 43.14 L563.00 43.22 L564.00 43.31 L565.00 43.44 L566.00 43.63 L567.00 43.85 L568.00 44.10 L569.00 44.37 L570.00 44.67 L571.00 45.01 L572.00 45.39 L573.00 45.79 L574.00 46.19 L575.00 46.60 L576.00 46.99 L577.00 47.37 L578.00 47.75 L579.00 48.14 L580.00 48.53 L581.00 48.93 L582.00 49.35 L583.00 49.78 L584.00 50.24 L585.00 50.73 L586.00 51.26 L587.00 51.82 L588.00 52.41 L589.00 53.02 L590.00 53.65 L591.00 54.29 L592.00 54.93 L593.00 55.58 L594.00 56.22 L595.00 56.86 L596.00 57.48 L597.00 58.07 L598.00 58.66 L599.00 59.25 L600.00 59.83 L601.00 60.41 L602.00 60.98 L603.00 61.56 L604.00 62.13 L605.00 62.70 L606.00 63.27 L607.00 63.84 L608.00 64.41 L609.00 64.97 L610.00 65.54 L611.00 66.11 L612.00 66.67 L613.00 67.24 L614.00 67.80 L615.00 68.37 L616.00 68.93 L617.00 69.50 L618.00 70.07 L619.00 70.63 L620.00 71.18 L621.00 71.72 L622.00 72.25 L623.00 72.80 L624.00 73.35 L625.00 73.93 L626.00 74.53 L627.00 75.17 L628.00 75.86 L629.00 76.59 L630.00 77.35 L631.00 78.15 L632.00 78.98 L633.00 79.82 L634.00 80.68 L635.00 81.55 L636.00 82.42 L637.00 83.29 L638.00 84.15 L639.00 84.99 L640.00 85.81 L641.00 86.64 L642.00 87.47 L643.00 88.30 L644.00 89.14 L645.00 89.97 L646.00 90.79 L647.00 91.60 L648.00 92.40 L649.00 93.18 L650.00 93.95 L651.00 94.72 L652.00 95.49 L653.00 96.27 L654.00 97.03 L655.00 97.79 L656.00 98.53 L657.00 99.24 L658.00 99.92 L659.00 100.58 L660.00 101.19 L661.00 101.76 L662.00 102.27 L663.00 102.73 L664.00 103.16 L665.00 103.58 L666.00 103.98 L667.00 104.40 L668.00 104.84 L669.00 105.32 L670.00 105.86 L671.00 106.46 L672.00 107.14 L673.00 107.87 L674.00 108.64 L675.00 109.44 L676.00 110.26 L677.00 111.08 L678.00 111.89 L679.00 112.67 L680.00 113.42 L681.00 114.13 L682.00 114.77 L683.00 115.36 L684.00 115.91 L685.00 116.45 L686.00 116.97 L687.00 117.47 L688.00 117.96 L689.00 118.43 L690.00 118.89 L691.00 119.34 L692.00 119.79 L693.00 120.23 L694.00 120.66 L695.00 121.10 L696.00 121.53 L697.00 121.97 L698.00 122.42 L699.00 122.87 L700.00 123.33 L701.00 123.80 L702.00 124.28 L703.00 124.78 L704.00 125.29 L705.00 125.84 L706.00 126.42 L707.00 127.01 L708.00 127.62 L709.00 128.22 L710.00 128.82 L711.00 129.39 L712.00 129.95 L713.00 130.46 L714.00 130.93 L715.00 131.36 L716.00 131.77 L717.00 132.19 L718.00 132.59 L719.00 132.97 L720.00 133.34 L721.00 133.68 L722.00 133.98 L723.00 134.25 L724.00 134.47 L725.00 134.64 L726.00 134.77 L727.00 134.87 L728.00 134.95 L729.00 135.04 L730.00 135.14 L731.00 135.27 L732.00 135.43 L733.00 135.61 L734.00 135.81 L735.00 136.03 L736.00 136.28 L737.00 136.54 L738.00 136.83 L739.00 137.13 L740.00 137.46 L741.00 137.80 L742.00 138.16 L743.00 138.54 L744.00 138.94 L745.00 139.36 L746.00 139.79 L746.20 139.88" stroke="#ff0000" stroke-width="3.9" fill="none" stroke-linejoin="round" stroke-linecap="butt" stroke-dasharray="9.2 8.0"/>
<path d="M106.00 110.14 L107.00 110.91 L108.00 111.71 L109.00 112.54 L110.00 113.40 L111.00 114.29 L112.00 115.21 L113.00 116.15 L114.00 117.11 L115.00 118.09 L116.00 119.10 L117.00 120.12 L118.00 121.15 L119.00 122.21 L120.00 123.28 L121.00 124.42 L122.00 125.63 L123.00 126.87 L124.00 128.15 L125.00 129.44 L126.00 130.74 L127.00 132.02 L128.00 133.31 L129.00 134.60 L130.00 135.91 L131.00 137.23 L132.00 138.56 L133.00 139.90 L134.00 141.24 L135.00 142.59 L136.00 143.95 L137.00 145.31 L138.00 146.67 L139.00 148.03 L140.00 149.39 L141.00 150.74 L142.00 152.09 L143.00 153.44 L144.00 154.78 L145.00 156.11 L146.00 157.43 L147.00 158.74 L148.00 160.04 L149.00 161.33 L150.00 162.62 L151.00 163.93 L152.00 165.24 L153.00 166.55 L154.00 167.87 L155.00 169.18 L156.00 170.50 L157.00 171.81 L158.00 173.11 L159.00 174.40 L160.00 175.68 L161.00 176.94 L162.00 178.19 L163.00 179.41 L164.00 180.62 L165.00 181.80 L166.00 182.96 L167.00 184.08 L168.00 185.18 L169.00 186.24 L170.00 187.27 L171.00 188.28 L172.00 189.29 L173.00 190.29 L174.00 191.29 L175.00 192.28 L176.00 193.25 L177.00 194.22 L178.00 195.17 L179.00 196.10 L180.00 197.02 L181.00 197.91 L182.00 198.78 L183.00 199.63 L184.00 200.45 L185.00 201.24 L186.00 202.01 L187.00 202.74 L188.00 203.43 L189.00 204.09 L190.00 204.72 L191.00 205.30 L192.00 205.86 L193.00 206.42 L194.00 206.99 L195.00 207.57 L196.00 208.14 L197.00 208.70 L198.00 209.26 L199.00 209.80 L200.00 210.33 L201.00 210.84 L202.00 211.32 L203.00 211.78 L204.00 212.21 L205.00 212.60 L206.00 212.96 L207.00 213.28 L208.00 213.56 L209.00 213.78 L210.00 213.96 L211.00 214.08 L212.00 214.15 L213.00 214.15 L214.00 214.12 L215.00 214.07 L216.00 213.98 L217.00 213.88 L218.00 213.74 L219.00 213.59 L220.00 213.41 L221.00 213.22 L222.00 213.00 L223.00 212.77 L224.00 212.52 L225.00 212.25 L226.00 211.98 L227.00 211.69 L228.00 211.39 L229.00 211.08 L230.00 210.76 L231.00 210.44 L232.00 210.11 L233.00 209.78 L234.00 209.45 L235.00 209.08 L236.00 208.66 L237.00 208.19 L238.00 207.68 L239.00 207.12 L240.00 206.53 L241.00 205.89 L242.00 205.22 L243.00 204.51 L244.00 203.78 L245.00 203.02 L246.00 202.23 L247.00 201.42 L248.00 200.59 L249.00 199.75 L250.00 198.89 L251.00 198.01 L252.00 197.13 L253.00 196.24 L254.00 195.35 L255.00 194.46 L256.00 193.55 L257.00 192.60 L258.00 191.62 L259.00 190.59 L260.00 189.52 L261.00 188.43 L262.00 187.30 L263.00 186.14 L264.00 184.96 L265.00 183.75 L266.00 182.52 L267.00 181.27 L268.00 180.01 L269.00 178.73 L270.00 177.44 L271.00 176.14 L272.00 174.84 L273.00 173.53 L274.00 172.22 L275.00 170.91 L276.00 169.60 L277.00 168.30 L278.00 166.97 L279.00 165.60 L280.00 164.21 L281.00 162.78 L282.00 161.34 L283.00 159.88 L284.00 158.40 L285.00 156.91 L286.00 155.41 L287.00 153.91 L288.00 152.41 L289.00 150.91 L290.00 149.43 L291.00 147.95 L292.00 146.49 L293.00 145.05 L294.00 143.63 L295.00 142.23 L296.00 140.87 L297.00 139.55 L298.00 138.26 L299.00 136.99 L300.00 135.74 L301.00 134.50 L302.00 133.27 L303.00 132.05 L304.00 130.84 L305.00 129.65 L306.00 128.46 L307.00 127.29 L308.00 126.13 L309.00 124.99 L310.00 123.85 L311.00 122.73 L312.00 121.62 L313.00 120.52 L314.00 119.44 L315.00 118.37 L316.00 117.31 L317.00 116.27 L318.00 115.23 L319.00 114.22 L320.00 113.21 L321.00 112.22 L322.00 111.23 L323.00 110.26 L324.00 109.29 L325.00 108.34 L326.00 107.40 L327.00 106.48 L328.00 105.57 L329.00 104.67 L330.00 103.79 L331.00 102.93 L332.00 102.08 L333.00 101.25 L334.00 100.44 L335.00 99.65 L336.00 98.85 L337.00 98.02 L338.00 97.19 L339.00 96.37 L340.00 95.58 L341.00 94.83 L342.00 94.14 L343.00 93.52 L344.00 93.00 L345.00 92.59 L346.00 92.27 L347.00 91.95 L348.00 91.64 L349.00 91.34 L350.00 91.06 L351.00 90.78 L352.00 90.53 L353.00 90.28 L354.00 90.06 L355.00 89.86 L356.00 89.67 L357.00 89.51 L358.00 89.37 L359.00 89.26 L360.00 89.17 L361.00 89.11 L362.00 89.08 L363.00 89.09 L364.00 89.13 L365.00 89.21 L366.00 89.31 L367.00 89.42 L368.00 89.55 L369.00 89.71 L370.00 89.93 L371.00 90.19 L372.00 90.49 L373.00 90.83 L374.00 91.21 L375.00 91.62 L376.00 92.06 L377.00 92.52 L378.00 93.01 L379.00 93.52 L380.00 94.05 L381.00 94.59 L382.00 95.14 L383.00 95.71 L384.00 96.38 L385.00 97.17 L386.00 98.03 L387.00 98.90 L388.00 99.76 L389.00 100.58 L390.00 101.40 L391.00 102.22 L392.00 103.04 L393.00 103.86 L394.00 104.68 L395.00 105.51 L396.00 106.35 L397.00 107.21 L398.00 108.08 L399.00 108.96 L400.00 109.87 L401.00 110.80 L402.00 111.75 L403.00 112.73 L404.00 113.74 L405.00 114.78 L406.00 115.87 L407.00 117.00 L408.00 118.17 L409.00 119.37 L410.00 120.60 L411.00 121.85 L412.00 123.13 L413.00 124.42 L414.00 125.73 L415.00 127.05 L416.00 128.37 L417.00 129.70 L418.00 131.03 L419.00 132.36 L420.00 133.68 L421.00 134.99 L422.00 136.33 L423.00 137.68 L424.00 139.05 L425.00 140.43 L426.00 141.83 L427.00 143.23 L428.00 144.64 L429.00 146.04 L430.00 147.45 L431.00 148.85 L432.00 150.25 L433.00 151.63 L434.00 153.00 L435.00 154.36 L436.00 155.69 L437.00 157.01 L438.00 158.31 L439.00 159.61 L440.00 160.90 L441.00 162.18 L442.00 163.46 L443.00 164.73 L444.00 165.99 L445.00 167.24 L446.00 168.49 L447.00 169.73 L448.00 170.96 L449.00 172.18 L450.00 173.40 L451.00 174.60 L452.00 175.80 L453.00 176.99 L454.00 178.18 L455.00 179.38 L456.00 180.60 L457.00 181.81 L458.00 183.03 L459.00 184.23 L460.00 185.43 L461.00 186.62 L462.00 187.78 L463.00 188.93 L464.00 190.04 L465.00 191.12 L466.00 192.17 L467.00 193.17 L468.00 194.13 L469.00 195.04 L470.00 195.91 L471.00 196.78 L472.00 197.63 L473.00 198.48 L474.00 199.32 L475.00 200.14 L476.00 200.95 L477.00 201.75 L478.00 202.52 L479.00 203.28 L480.00 204.01 L481.00 204.71 L482.00 205.39 L483.00 206.05 L484.00 206.67 L485.00 207.26 L486.00 207.81 L487.00 208.33 L488.00 208.81 L489.00 209.25 L490.00 209.65 L491.00 210.05 L492.00 210.45 L493.00 210.84 L494.00 211.23 L495.00 211.62 L496.00 211.99 L497.00 212.35 L498.00 212.69 L499.00 213.01 L500.00 213.31 L501.00 213.59 L502.00 213.83 L503.00 214.05 L504.00 214.23 L505.00 214.38 L506.00 214.48 L507.00 214.54 L508.00 214.56 L509.00 214.56 L510.00 214.56 L511.00 214.56 L512.00 214.56 L513.00 214.56 L514.00 214.56 L515.00 214.51 L516.00 214.38 L517.00 214.17 L518.00 213.89 L519.00 213.54 L520.00 213.14 L521.00 212.69 L522.00 212.20 L523.00 211.67 L524.00 211.11 L525.00 210.53 L526.00 209.94 L527.00 209.34 L528.00 208.74 L529.00 208.15 L530.00 207.58 L531.00 207.01 L532.00 206.41 L533.00 205.78 L534.00 205.11 L535.00 204.42 L536.00 203.71 L537.00 202.96 L538.00 202.20 L539.00 201.41 L540.00 200.60 L541.00 199.77 L542.00 198.93 L543.00 198.07 L544.00 197.19 L545.00 196.30 L546.00 195.40 L547.00 194.49 L548.00 193.57 L549.00 192.65 L550.00 191.71 L551.00 190.78 L552.00 189.81 L553.00 188.80 L554.00 187.77 L555.00 186.70 L556.00 185.61 L557.00 184.49 L558.00 183.35 L559.00 182.18 L560.00 181.00 L561.00 179.80 L562.00 178.55 L563.00 177.27 L564.00 175.96 L565.00 174.62 L566.00 173.26 L567.00 171.89 L568.00 170.50 L569.00 169.10 L570.00 167.71 L571.00 166.31 L572.00 164.92 L573.00 163.54 L574.00 162.17 L575.00 160.83 L576.00 159.50 L577.00 158.17 L578.00 156.86 L579.00 155.55 L580.00 154.24 L581.00 152.93 L582.00 151.63 L583.00 150.32 L584.00 149.01 L585.00 147.70 L586.00 146.38 L587.00 145.05 L588.00 143.72 L589.00 142.38 L590.00 141.02 L591.00 139.65 L592.00 138.25 L593.00 136.81 L594.00 135.36 L595.00 133.89 L596.00 132.42 L597.00 130.94 L598.00 129.48 L599.00 128.03 L600.00 126.60 L601.00 125.21 L602.00 123.85 L603.00 122.54 L604.00 121.28 L605.00 120.07 L606.00 118.90 L607.00 117.79 L608.00 116.73 L609.00 115.71 L610.00 114.72 L611.00 113.76 L612.00 112.82 L613.00 111.90 L614.00 111.00 L615.00 110.11 L616.00 109.22 L617.00 108.34 L618.00 107.45 L619.00 106.56 L620.00 105.66 L621.00 104.75 L622.00 103.80 L623.00 102.82 L624.00 101.85 L625.00 100.94 L626.00 100.13 L627.00 99.40 L628.00 98.66 L629.00 97.90 L630.00 97.15 L631.00 96.39 L632.00 95.65 L633.00 94.92 L634.00 94.21 L635.00 93.53 L636.00 92.88 L637.00 92.26 L638.00 91.70 L639.00 91.18 L640.00 90.72 L641.00 90.33 L642.00 90.00 L643.00 89.75 L644.00 89.58 L645.00 89.49 L646.00 89.49 L647.00 89.49 L648.00 89.49 L649.00 89.49 L650.00 89.49 L651.00 89.49 L652.00 89.49 L653.00 89.49 L654.00 89.49 L655.00 89.49 L656.00 89.49 L657.00 89.49 L658.00 89.49 L659.00 89.49 L660.00 89.49 L661.00 89.49 L662.00 89.49 L663.00 89.49 L664.00 89.50 L665.00 89.72 L666.00 90.16 L667.00 90.75 L668.00 91.41 L669.00 92.06 L670.00 92.63 L671.00 93.15 L672.00 93.67 L673.00 94.19 L674.00 94.71 L675.00 95.23 L676.00 95.76 L677.00 96.30 L678.00 96.85 L679.00 97.42 L680.00 98.01 L681.00 98.62 L682.00 99.26 L683.00 99.93 L684.00 100.63 L685.00 101.37 L686.00 102.14 L687.00 102.96 L688.00 103.81 L689.00 104.70 L690.00 105.61 L691.00 106.56 L692.00 107.54 L693.00 108.55 L694.00 109.58 L695.00 110.64 L696.00 111.71 L697.00 112.81 L698.00 113.93 L699.00 115.06 L700.00 116.21 L701.00 117.37 L702.00 118.55 L703.00 119.75 L704.00 121.03 L705.00 122.38 L706.00 123.78 L707.00 125.20 L708.00 126.64 L709.00 128.07 L710.00 129.48 L711.00 130.84 L712.00 132.21 L713.00 133.57 L714.00 134.94 L715.00 136.32 L716.00 137.69 L717.00 139.06 L718.00 140.44 L719.00 141.81 L720.00 143.18 L721.00 144.55 L722.00 145.91 L723.00 147.27 L724.00 148.62 L725.00 149.97 L726.00 151.31 L727.00 152.63 L728.00 153.95 L729.00 155.26 L730.00 156.55 L731.00 157.84 L732.00 159.11 L733.00 160.36 L734.00 161.60 L735.00 162.82 L736.00 164.02 L737.00 165.21 L738.00 166.39 L739.00 167.55 L740.00 168.70 L741.00 169.84 L742.00 170.96 L743.00 172.07 L744.00 173.17 L745.00 174.26 L746.00 175.35 L746.20 175.56" stroke="#00aa00" stroke-width="4.5" fill="none" stroke-linejoin="round" stroke-linecap="butt"/>
<path d="M928.00 394.08 L929.00 393.97 L930.00 393.85 L931.00 393.74 L932.00 393.63 L933.00 393.53 L934.00 393.43 L935.00 393.35 L936.00 393.28 L937.00 393.22 L938.00 393.18 L939.00 393.17 L940.00 393.17 L941.00 393.19 L942.00 393.23 L943.00 393.29 L944.00 393.36 L945.00 393.44 L946.00 393.53 L947.00 393.62 L948.00 393.71 L949.00 393.80 L950.00 393.88 L951.00 393.96 L952.00 394.03 L953.00 394.09 L954.00 394.15 L955.00 394.21 L956.00 394.26 L957.00 394.32 L958.00 394.38 L959.00 394.44 L960.00 394.51 L961.00 394.59 L962.00 394.69 L963.00 394.78 L964.00 394.89 L965.00 395.01 L966.00 395.13 L967.00 395.26 L968.00 395.40 L969.00 395.54 L970.00 395.69 L971.00 395.84 L972.00 395.99 L973.00 396.15 L974.00 396.31 L975.00 396.47 L976.00 396.63 L977.00 396.79 L978.00 396.95 L979.00 397.11 L980.00 397.28 L981.00 397.44 L982.00 397.60 L983.00 397.76 L984.00 397.91 L985.00 398.06 L986.00 398.21 L987.00 398.35 L988.00 398.48 L989.00 398.61 L990.00 398.72 L991.00 398.83 L992.00 398.92 L993.00 399.00 L994.00 399.07 L995.00 399.12 L996.00 399.17 L997.00 399.20 L998.00 399.22 L999.00 399.24 L1000.00 399.25 L1001.00 399.25 L1002.00 399.25 L1003.00 399.25 L1004.00 399.25 L1005.00 399.25 L1006.00 399.25 L1007.00 399.24 L1008.00 399.24 L1009.00 399.22 L1010.00 399.21 L1011.00 399.18 L1012.00 399.15 L1013.00 399.11 L1014.00 399.06 L1015.00 399.00 L1016.00 398.93 L1017.00 398.85 L1018.00 398.77 L1019.00 398.67 L1020.00 398.57 L1021.00 398.46 L1022.00 398.35 L1023.00 398.24 L1024.00 398.12 L1025.00 398.01 L1026.00 397.89 L1027.00 397.77 L1028.00 397.65 L1029.00 397.53 L1030.00 397.41 L1031.00 397.28 L1032.00 397.15 L1033.00 397.02 L1034.00 396.88 L1035.00 396.74 L1036.00 396.58 L1037.00 396.43 L1038.00 396.27 L1039.00 396.10 L1040.00 395.93 L1041.00 395.77 L1042.00 395.60 L1043.00 395.44 L1044.00 395.29 L1045.00 395.14 L1046.00 395.01 L1047.00 394.88 L1048.00 394.77 L1049.00 394.66 L1050.00 394.56 L1051.00 394.47 L1052.00 394.38 L1053.00 394.30 L1054.00 394.22 L1055.00 394.14 L1056.00 394.05 L1057.00 393.97 L1058.00 393.88 L1059.00 393.78 L1060.00 393.69 L1061.00 393.59 L1062.00 393.50 L1063.00 393.42 L1064.00 393.34 L1065.00 393.27 L1066.00 393.21 L1067.00 393.17 L1068.00 393.14 L1069.00 393.13 L1070.00 393.14 L1071.00 393.16 L1072.00 393.19 L1073.00 393.23 L1074.00 393.28 L1075.00 393.34 L1076.00 393.41 L1077.00 393.49 L1078.00 393.57 L1079.00 393.65 L1080.00 393.74 L1081.00 393.82 L1082.00 393.92 L1083.00 394.01 L1084.00 394.10 L1085.00 394.20 L1086.00 394.29 L1087.00 394.38 L1088.00 394.47 L1089.00 394.56 L1090.00 394.65 L1091.00 394.73 L1092.00 394.82 L1093.00 394.91 L1094.00 395.00 L1095.00 395.10 L1096.00 395.21 L1097.00 395.32 L1098.00 395.45 L1099.00 395.59 L1100.00 395.75 L1101.00 395.91 L1102.00 396.09 L1103.00 396.28 L1104.00 396.47 L1105.00 396.66 L1106.00 396.85 L1107.00 397.04 L1108.00 397.22 L1109.00 397.39 L1110.00 397.56 L1111.00 397.71 L1112.00 397.84 L1113.00 397.97 L1114.00 398.08 L1115.00 398.19 L1116.00 398.29 L1117.00 398.37 L1118.00 398.46 L1119.00 398.53 L1120.00 398.61 L1121.00 398.67 L1122.00 398.74 L1123.00 398.80 L1124.00 398.87 L1125.00 398.92 L1126.00 398.98 L1127.00 399.03 L1128.00 399.08 L1129.00 399.13 L1130.00 399.18 L1131.00 399.22 L1132.00 399.27 L1133.00 399.31 L1134.00 399.34 L1135.00 399.37 L1136.00 399.38 L1137.00 399.39 L1138.00 399.39 L1139.00 399.36 L1140.00 399.33 L1141.00 399.27 L1142.00 399.19 L1143.00 399.09 L1144.00 398.98 L1145.00 398.84 L1146.00 398.70 L1147.00 398.54 L1148.00 398.39 L1149.00 398.23 L1150.00 398.07 L1151.00 397.92 L1152.00 397.77 L1153.00 397.64 L1154.00 397.52 L1155.00 397.41 L1156.00 397.31 L1157.00 397.22 L1158.00 397.13 L1159.00 397.03 L1160.00 396.93 L1161.00 396.83 L1162.00 396.71 L1163.00 396.58 L1164.00 396.44 L1165.00 396.28 L1166.00 396.10 L1167.00 395.92 L1168.00 395.73 L1169.00 395.54 L1170.00 395.35 L1171.00 395.16 L1172.00 394.97 L1173.00 394.80 L1174.00 394.63 L1175.00 394.48 L1176.00 394.35 L1177.00 394.22 L1178.00 394.11 L1179.00 394.01 L1180.00 393.92 L1181.00 393.84 L1182.00 393.76 L1183.00 393.69 L1184.00 393.63 L1185.00 393.57 L1186.00 393.51 L1187.00 393.45 L1188.00 393.39 L1189.00 393.34 L1190.00 393.30 L1191.00 393.25 L1192.00 393.22 L1193.00 393.19 L1194.00 393.16 L1195.00 393.15 L1196.00 393.14 L1197.00 393.15 L1198.00 393.16 L1199.00 393.17 L1200.00 393.20 L1201.00 393.23 L1202.00 393.27 L1203.00 393.32 L1204.00 393.37 L1205.00 393.42 L1206.00 393.48 L1207.00 393.54 L1208.00 393.61 L1209.00 393.68 L1210.00 393.76 L1211.00 393.85 L1212.00 393.94 L1213.00 394.04 L1214.00 394.16 L1215.00 394.28 L1216.00 394.42 L1217.00 394.58 L1218.00 394.75 L1219.00 394.93 L1220.00 395.13 L1221.00 395.33 L1222.00 395.54 L1223.00 395.75 L1224.00 395.95 L1225.00 396.16 L1226.00 396.35 L1227.00 396.54 L1228.00 396.71 L1229.00 396.87 L1230.00 397.02 L1231.00 397.16 L1232.00 397.30 L1233.00 397.42 L1234.00 397.54 L1235.00 397.66 L1236.00 397.77 L1237.00 397.88 L1238.00 397.99 L1239.00 398.10 L1240.00 398.21 L1241.00 398.32 L1242.00 398.43 L1243.00 398.54 L1244.00 398.64 L1245.00 398.74 L1246.00 398.83 L1247.00 398.91 L1248.00 398.99 L1249.00 399.05 L1250.00 399.11 L1251.00 399.15 L1252.00 399.19 L1253.00 399.22 L1254.00 399.24 L1255.00 399.25 L1256.00 399.26 L1257.00 399.26 L1258.00 399.26 L1259.00 399.25 L1260.00 399.24 L1261.00 399.23 L1262.00 399.21 L1263.00 399.20 L1264.00 399.17 L1265.00 399.14 L1266.00 399.11 L1267.00 399.06 L1268.00 399.02 L1269.00 398.96 L1270.00 398.90 L1271.00 398.82 L1272.00 398.74 L1273.00 398.65 L1274.00 398.55 L1275.00 398.44 L1276.00 398.33 L1277.00 398.20 L1278.00 398.07 L1279.00 397.93 L1280.00 397.78 L1281.00 397.62 L1282.00 397.46 L1283.00 397.29 L1284.00 397.12 L1285.00 396.94 L1286.00 396.76 L1287.00 396.57 L1288.00 396.38 L1289.00 396.19 L1290.00 396.01 L1291.00 395.82 L1292.00 395.63 L1293.00 395.45 L1294.00 395.27 L1295.00 395.09 L1296.00 394.92 L1297.00 394.75 L1298.00 394.59 L1299.00 394.43 L1300.00 394.28 L1301.00 394.14 L1302.00 394.01 L1303.00 393.89 L1304.00 393.78 L1305.00 393.68 L1306.00 393.58 L1307.00 393.50 L1308.00 393.42 L1309.00 393.35 L1310.00 393.29 L1311.00 393.24 L1312.00 393.20 L1313.00 393.16 L1314.00 393.13 L1315.00 393.10 L1316.00 393.09 L1317.00 393.08 L1318.00 393.07 L1319.00 393.07 L1320.00 393.08 L1321.00 393.09 L1322.00 393.10 L1323.00 393.12 L1324.00 393.14 L1325.00 393.17 L1326.00 393.19 L1327.00 393.23 L1328.00 393.26 L1329.00 393.30 L1330.00 393.34 L1331.00 393.39 L1332.00 393.44 L1333.00 393.49 L1334.00 393.54 L1335.00 393.60 L1336.00 393.66 L1337.00 393.73 L1338.00 393.80 L1339.00 393.88 L1340.00 393.97 L1341.00 394.06 L1342.00 394.17 L1343.00 394.29 L1344.00 394.41 L1345.00 394.55 L1346.00 394.71 L1347.00 394.87 L1348.00 395.04 L1349.00 395.22 L1350.00 395.41 L1351.00 395.60 L1352.00 395.80 L1353.00 395.99 L1354.00 396.18 L1355.00 396.37 L1356.00 396.55 L1357.00 396.72 L1358.00 396.88 L1359.00 397.04 L1360.00 397.19 L1361.00 397.34 L1362.00 397.48 L1363.00 397.61 L1364.00 397.74 L1365.00 397.86 L1366.00 397.98 L1367.00 398.10 L1368.00 398.21 L1369.00 398.32 L1370.00 398.43 L1371.00 398.53 L1372.00 398.62 L1373.00 398.71 L1374.00 398.79 L1375.00 398.87 L1376.00 398.94 L1377.00 399.00 L1378.00 399.06 L1379.00 399.10 L1380.00 399.14 L1381.00 399.17 L1382.00 399.19 L1383.00 399.20 L1384.00 399.20 L1385.00 399.20 L1386.00 399.18 L1387.00 399.16 L1388.00 399.13 L1389.00 399.09 L1390.00 399.04 L1391.00 398.99 L1392.00 398.92 L1393.00 398.85 L1394.00 398.76 L1395.00 398.66 L1396.00 398.56 L1397.00 398.44 L1398.00 398.32 L1399.00 398.18 L1400.00 398.03 L1401.00 397.87 L1402.00 397.71 L1403.00 397.54 L1404.00 397.37 L1405.00 397.21 L1406.00 397.05 L1407.00 396.89 L1408.00 396.75 L1409.00 396.61 L1410.00 396.49 L1411.00 396.39 L1412.00 396.29 L1413.00 396.20 L1414.00 396.11 L1415.00 396.03 L1416.00 395.94 L1417.00 395.86 L1418.00 395.77 L1419.00 395.68 L1420.00 395.57 L1421.00 395.46 L1422.00 395.33 L1423.00 395.20 L1424.00 395.06 L1425.00 394.92 L1426.00 394.78 L1427.00 394.63 L1428.00 394.48 L1429.00 394.34 L1430.00 394.20 L1431.00 394.07 L1432.00 393.95 L1433.00 393.83 L1434.00 393.72 L1435.00 393.61 L1436.00 393.52 L1437.00 393.43 L1438.00 393.35 L1439.00 393.28 L1440.00 393.22 L1441.00 393.16 L1442.00 393.12 L1443.00 393.08 L1444.00 393.06 L1445.00 393.04 L1446.00 393.03 L1447.00 393.03 L1448.00 393.04 L1449.00 393.06 L1450.00 393.08 L1451.00 393.11 L1452.00 393.16 L1453.00 393.21 L1454.00 393.26 L1455.00 393.32 L1456.00 393.39 L1457.00 393.46 L1458.00 393.54 L1459.00 393.62 L1460.00 393.70 L1461.00 393.78 L1462.00 393.87 L1463.00 393.95 L1464.00 394.04 L1465.00 394.13 L1466.00 394.22 L1467.00 394.31 L1468.00 394.41 L1469.00 394.51 L1470.00 394.63 L1471.00 394.75 L1472.00 394.88 L1473.00 395.03 L1474.00 395.19 L1475.00 395.36 L1476.00 395.55 L1477.00 395.75 L1478.00 395.95 L1479.00 396.16 L1480.00 396.36 L1481.00 396.57 L1482.00 396.77 L1483.00 396.97 L1484.00 397.15 L1485.00 397.33 L1486.00 397.48 L1487.00 397.63 L1488.00 397.77 L1489.00 397.89 L1490.00 398.01 L1491.00 398.12 L1492.00 398.22 L1493.00 398.31 L1494.00 398.40 L1495.00 398.48 L1496.00 398.56 L1497.00 398.63 L1498.00 398.70 L1499.00 398.76 L1500.00 398.81 L1501.00 398.87 L1502.00 398.91 L1503.00 398.95 L1504.00 398.99 L1505.00 399.02 L1506.00 399.05 L1507.00 399.07 L1508.00 399.08 L1509.00 399.09 L1510.00 399.10 L1511.00 399.10 L1512.00 399.10 L1513.00 399.09 L1514.00 399.07 L1515.00 399.05 L1516.00 399.03 L1517.00 399.00 L1518.00 398.97 L1519.00 398.93 L1520.00 398.88 L1521.00 398.83 L1522.00 398.78 L1523.00 398.72 L1524.00 398.65 L1525.00 398.58 L1526.00 398.50 L1527.00 398.42 L1528.00 398.33 L1529.00 398.23 L1530.00 398.13 L1531.00 398.02 L1532.00 397.91 L1533.00 397.78 L1534.00 397.65 L1535.00 397.51 L1536.00 397.36 L1537.00 397.21 L1538.00 397.04 L1539.00 396.87 L1540.00 396.68 L1541.00 396.50 L1542.00 396.31 L1543.00 396.12 L1544.00 395.93 L1545.00 395.75 L1546.00 395.57 L1547.00 395.39 L1548.00 395.23 L1549.00 395.07 L1550.00 394.92 L1551.00 394.78 L1552.00 394.65 L1553.00 394.52 L1554.00 394.40 L1555.00 394.29 L1556.00 394.19 L1557.00 394.09 L1558.00 393.99 L1559.00 393.90 L1560.00 393.81 L1561.00 393.72 L1562.00 393.64 L1563.00 393.56 L1564.00 393.48 L1565.00 393.40 L1566.00 393.33 L1567.00 393.25 L1568.00 393.18 L1568.50 393.14" stroke="#000" stroke-width="3.6" fill="none" stroke-linejoin="round" stroke-linecap="butt" stroke-dasharray="2.6 7.4"/>
<path d="M928.00 401.28 L929.00 401.06 L930.00 400.85 L931.00 400.63 L932.00 400.41 L933.00 400.18 L934.00 399.96 L935.00 399.72 L936.00 399.49 L937.00 399.26 L938.00 399.04 L939.00 398.81 L940.00 398.58 L941.00 398.35 L942.00 398.11 L943.00 397.86 L944.00 397.61 L945.00 397.34 L946.00 397.06 L947.00 396.76 L948.00 396.45 L949.00 396.11 L950.00 395.76 L951.00 395.38 L952.00 394.99 L953.00 394.58 L954.00 394.15 L955.00 393.71 L956.00 393.26 L957.00 392.80 L958.00 392.33 L959.00 391.85 L960.00 391.36 L961.00 390.87 L962.00 390.38 L963.00 389.88 L964.00 389.38 L965.00 388.87 L966.00 388.35 L967.00 387.82 L968.00 387.27 L969.00 386.71 L970.00 386.14 L971.00 385.56 L972.00 384.97 L973.00 384.38 L974.00 383.79 L975.00 383.18 L976.00 382.58 L977.00 381.98 L978.00 381.37 L979.00 380.76 L980.00 380.16 L981.00 379.55 L982.00 378.93 L983.00 378.31 L984.00 377.68 L985.00 377.05 L986.00 376.41 L987.00 375.77 L988.00 375.11 L989.00 374.45 L990.00 373.77 L991.00 373.09 L992.00 372.39 L993.00 371.68 L994.00 370.95 L995.00 370.21 L996.00 369.45 L997.00 368.67 L998.00 367.89 L999.00 367.10 L1000.00 366.30 L1001.00 365.49 L1002.00 364.68 L1003.00 363.87 L1004.00 363.05 L1005.00 362.24 L1006.00 361.43 L1007.00 360.61 L1008.00 359.80 L1009.00 358.98 L1010.00 358.15 L1011.00 357.33 L1012.00 356.49 L1013.00 355.66 L1014.00 354.82 L1015.00 353.98 L1016.00 353.13 L1017.00 352.29 L1018.00 351.45 L1019.00 350.60 L1020.00 349.75 L1021.00 348.90 L1022.00 348.04 L1023.00 347.18 L1024.00 346.32 L1025.00 345.46 L1026.00 344.60 L1027.00 343.73 L1028.00 342.87 L1029.00 342.01 L1030.00 341.15 L1031.00 340.30 L1032.00 339.44 L1033.00 338.60 L1034.00 337.75 L1035.00 336.90 L1036.00 336.04 L1037.00 335.19 L1038.00 334.34 L1039.00 333.49 L1040.00 332.64 L1041.00 331.81 L1042.00 330.98 L1043.00 330.17 L1044.00 329.37 L1045.00 328.59 L1046.00 327.82 L1047.00 327.07 L1048.00 326.33 L1049.00 325.61 L1050.00 324.89 L1051.00 324.18 L1052.00 323.48 L1053.00 322.78 L1054.00 322.08 L1055.00 321.38 L1056.00 320.69 L1057.00 319.99 L1058.00 319.29 L1059.00 318.58 L1060.00 317.86 L1061.00 317.14 L1062.00 316.41 L1063.00 315.67 L1064.00 314.93 L1065.00 314.19 L1066.00 313.45 L1067.00 312.71 L1068.00 311.99 L1069.00 311.27 L1070.00 310.56 L1071.00 309.87 L1072.00 309.19 L1073.00 308.53 L1074.00 307.89 L1075.00 307.27 L1076.00 306.66 L1077.00 306.06 L1078.00 305.46 L1079.00 304.88 L1080.00 304.31 L1081.00 303.74 L1082.00 303.18 L1083.00 302.62 L1084.00 302.08 L1085.00 301.53 L1086.00 300.99 L1087.00 300.46 L1088.00 299.92 L1089.00 299.39 L1090.00 298.85 L1091.00 298.32 L1092.00 297.79 L1093.00 297.27 L1094.00 296.74 L1095.00 296.23 L1096.00 295.72 L1097.00 295.23 L1098.00 294.74 L1099.00 294.26 L1100.00 293.80 L1101.00 293.35 L1102.00 292.92 L1103.00 292.50 L1104.00 292.09 L1105.00 291.70 L1106.00 291.31 L1107.00 290.94 L1108.00 290.58 L1109.00 290.24 L1110.00 289.90 L1111.00 289.57 L1112.00 289.23 L1113.00 288.89 L1114.00 288.54 L1115.00 288.20 L1116.00 287.87 L1117.00 287.55 L1118.00 287.26 L1119.00 287.00 L1120.00 286.76 L1121.00 286.57 L1122.00 286.42 L1123.00 286.31 L1124.00 286.21 L1125.00 286.11 L1126.00 286.01 L1127.00 285.92 L1128.00 285.84 L1129.00 285.76 L1130.00 285.68 L1131.00 285.61 L1132.00 285.55 L1133.00 285.50 L1134.00 285.45 L1135.00 285.41 L1136.00 285.38 L1137.00 285.36 L1138.00 285.35 L1139.00 285.35 L1140.00 285.36 L1141.00 285.39 L1142.00 285.43 L1143.00 285.48 L1144.00 285.55 L1145.00 285.62 L1146.00 285.71 L1147.00 285.81 L1148.00 285.91 L1149.00 286.02 L1150.00 286.13 L1151.00 286.26 L1152.00 286.38 L1153.00 286.51 L1154.00 286.64 L1155.00 286.77 L1156.00 286.92 L1157.00 287.09 L1158.00 287.29 L1159.00 287.51 L1160.00 287.74 L1161.00 288.00 L1162.00 288.26 L1163.00 288.55 L1164.00 288.84 L1165.00 289.14 L1166.00 289.45 L1167.00 289.76 L1168.00 290.08 L1169.00 290.42 L1170.00 290.78 L1171.00 291.15 L1172.00 291.54 L1173.00 291.95 L1174.00 292.38 L1175.00 292.82 L1176.00 293.27 L1177.00 293.73 L1178.00 294.21 L1179.00 294.70 L1180.00 295.19 L1181.00 295.70 L1182.00 296.22 L1183.00 296.77 L1184.00 297.34 L1185.00 297.94 L1186.00 298.56 L1187.00 299.21 L1188.00 299.86 L1189.00 300.53 L1190.00 301.21 L1191.00 301.89 L1192.00 302.58 L1193.00 303.27 L1194.00 303.95 L1195.00 304.63 L1196.00 305.29 L1197.00 305.96 L1198.00 306.64 L1199.00 307.33 L1200.00 308.01 L1201.00 308.71 L1202.00 309.40 L1203.00 310.10 L1204.00 310.80 L1205.00 311.50 L1206.00 312.20 L1207.00 312.89 L1208.00 313.59 L1209.00 314.27 L1210.00 314.96 L1211.00 315.63 L1212.00 316.30 L1213.00 316.95 L1214.00 317.59 L1215.00 318.22 L1216.00 318.84 L1217.00 319.45 L1218.00 320.06 L1219.00 320.67 L1220.00 321.29 L1221.00 321.92 L1222.00 322.55 L1223.00 323.20 L1224.00 323.87 L1225.00 324.56 L1226.00 325.28 L1227.00 326.03 L1228.00 326.80 L1229.00 327.61 L1230.00 328.44 L1231.00 329.29 L1232.00 330.15 L1233.00 331.03 L1234.00 331.92 L1235.00 332.82 L1236.00 333.71 L1237.00 334.61 L1238.00 335.50 L1239.00 336.39 L1240.00 337.26 L1241.00 338.12 L1242.00 338.97 L1243.00 339.83 L1244.00 340.69 L1245.00 341.54 L1246.00 342.40 L1247.00 343.26 L1248.00 344.12 L1249.00 344.97 L1250.00 345.83 L1251.00 346.69 L1252.00 347.54 L1253.00 348.40 L1254.00 349.26 L1255.00 350.12 L1256.00 350.98 L1257.00 351.85 L1258.00 352.73 L1259.00 353.62 L1260.00 354.50 L1261.00 355.38 L1262.00 356.26 L1263.00 357.13 L1264.00 357.99 L1265.00 358.85 L1266.00 359.69 L1267.00 360.51 L1268.00 361.32 L1269.00 362.11 L1270.00 362.88 L1271.00 363.63 L1272.00 364.37 L1273.00 365.09 L1274.00 365.81 L1275.00 366.51 L1276.00 367.22 L1277.00 367.91 L1278.00 368.60 L1279.00 369.30 L1280.00 369.99 L1281.00 370.69 L1282.00 371.39 L1283.00 372.10 L1284.00 372.82 L1285.00 373.55 L1286.00 374.28 L1287.00 375.02 L1288.00 375.76 L1289.00 376.50 L1290.00 377.24 L1291.00 377.97 L1292.00 378.69 L1293.00 379.41 L1294.00 380.11 L1295.00 380.80 L1296.00 381.47 L1297.00 382.13 L1298.00 382.76 L1299.00 383.39 L1300.00 384.01 L1301.00 384.62 L1302.00 385.23 L1303.00 385.82 L1304.00 386.41 L1305.00 386.98 L1306.00 387.55 L1307.00 388.10 L1308.00 388.64 L1309.00 389.18 L1310.00 389.69 L1311.00 390.20 L1312.00 390.69 L1313.00 391.18 L1314.00 391.67 L1315.00 392.16 L1316.00 392.64 L1317.00 393.12 L1318.00 393.58 L1319.00 394.03 L1320.00 394.47 L1321.00 394.89 L1322.00 395.29 L1323.00 395.67 L1324.00 396.02 L1325.00 396.35 L1326.00 396.64 L1327.00 396.92 L1328.00 397.18 L1329.00 397.43 L1330.00 397.66 L1331.00 397.88 L1332.00 398.10 L1333.00 398.31 L1334.00 398.51 L1335.00 398.70 L1336.00 398.89 L1337.00 399.08 L1338.00 399.26 L1339.00 399.45 L1340.00 399.63 L1341.00 399.83 L1342.00 400.04 L1343.00 400.26 L1344.00 400.48 L1345.00 400.70 L1346.00 400.91 L1347.00 401.11 L1348.00 401.29 L1349.00 401.44 L1350.00 401.56 L1351.00 401.64 L1352.00 401.68 L1353.00 401.68 L1354.00 401.68 L1355.00 401.68 L1356.00 401.68 L1357.00 401.68 L1358.00 401.68 L1359.00 401.68 L1360.00 401.68 L1361.00 401.68 L1362.00 401.68 L1363.00 401.65 L1364.00 401.50 L1365.00 401.31 L1366.00 401.15 L1367.00 400.99 L1368.00 400.82 L1369.00 400.65 L1370.00 400.47 L1371.00 400.30 L1372.00 400.12 L1373.00 399.96 L1374.00 399.80 L1375.00 399.65 L1376.00 399.51 L1377.00 399.39 L1378.00 399.29 L1379.00 399.20 L1380.00 399.12 L1381.00 399.03 L1382.00 398.94 L1383.00 398.84 L1384.00 398.71 L1385.00 398.55 L1386.00 398.33 L1387.00 398.06 L1388.00 397.74 L1389.00 397.37 L1390.00 396.94 L1391.00 396.47 L1392.00 395.95 L1393.00 395.36 L1394.00 394.40 L1395.00 393.53 L1396.00 392.95 L1397.00 392.43 L1398.00 391.96 L1399.00 391.54 L1400.00 391.15 L1401.00 390.78 L1402.00 390.42 L1403.00 390.06 L1404.00 389.70 L1405.00 389.31 L1406.00 388.88 L1407.00 388.42 L1408.00 387.92 L1409.00 387.40 L1410.00 386.87 L1411.00 386.32 L1412.00 385.76 L1413.00 385.19 L1414.00 384.61 L1415.00 384.02 L1416.00 383.42 L1417.00 382.82 L1418.00 382.22 L1419.00 381.61 L1420.00 381.01 L1421.00 380.41 L1422.00 379.82 L1423.00 379.23 L1424.00 378.64 L1425.00 378.05 L1426.00 377.46 L1427.00 376.87 L1428.00 376.28 L1429.00 375.67 L1430.00 375.07 L1431.00 374.45 L1432.00 373.82 L1433.00 373.18 L1434.00 372.52 L1435.00 371.85 L1436.00 371.16 L1437.00 370.46 L1438.00 369.73 L1439.00 368.97 L1440.00 368.17 L1441.00 367.35 L1442.00 366.51 L1443.00 365.64 L1444.00 364.77 L1445.00 363.88 L1446.00 362.98 L1447.00 362.08 L1448.00 361.18 L1449.00 360.28 L1450.00 359.39 L1451.00 358.52 L1452.00 357.66 L1453.00 356.80 L1454.00 355.93 L1455.00 355.06 L1456.00 354.19 L1457.00 353.33 L1458.00 352.46 L1459.00 351.59 L1460.00 350.73 L1461.00 349.86 L1462.00 349.01 L1463.00 348.16 L1464.00 347.32 L1465.00 346.49 L1466.00 345.66 L1467.00 344.85 L1468.00 344.04 L1469.00 343.24 L1470.00 342.45 L1471.00 341.67 L1472.00 340.88 L1473.00 340.10 L1474.00 339.33 L1475.00 338.55 L1476.00 337.78 L1477.00 337.00 L1478.00 336.23 L1479.00 335.45 L1480.00 334.67 L1481.00 333.88 L1482.00 333.08 L1483.00 332.27 L1484.00 331.46 L1485.00 330.65 L1486.00 329.84 L1487.00 329.03 L1488.00 328.23 L1489.00 327.43 L1490.00 326.64 L1491.00 325.87 L1492.00 325.11 L1493.00 324.36 L1494.00 323.64 L1495.00 322.93 L1496.00 322.25 L1497.00 321.57 L1498.00 320.91 L1499.00 320.26 L1500.00 319.62 L1501.00 318.99 L1502.00 318.37 L1503.00 317.74 L1504.00 317.12 L1505.00 316.50 L1506.00 315.87 L1507.00 315.25 L1508.00 314.61 L1509.00 313.97 L1510.00 313.32 L1511.00 312.67 L1512.00 312.02 L1513.00 311.36 L1514.00 310.71 L1515.00 310.05 L1516.00 309.40 L1517.00 308.75 L1518.00 308.11 L1519.00 307.46 L1520.00 306.83 L1521.00 306.20 L1522.00 305.59 L1523.00 304.98 L1524.00 304.37 L1525.00 303.78 L1526.00 303.18 L1527.00 302.59 L1528.00 302.01 L1529.00 301.43 L1530.00 300.85 L1531.00 300.29 L1532.00 299.72 L1533.00 299.16 L1534.00 298.61 L1535.00 298.06 L1536.00 297.52 L1537.00 296.98 L1538.00 296.44 L1539.00 295.89 L1540.00 295.33 L1541.00 294.77 L1542.00 294.21 L1543.00 293.66 L1544.00 293.11 L1545.00 292.58 L1546.00 292.07 L1547.00 291.58 L1548.00 291.11 L1549.00 290.68 L1550.00 290.28 L1551.00 289.93 L1552.00 289.60 L1553.00 289.28 L1554.00 288.97 L1555.00 288.66 L1556.00 288.36 L1557.00 288.07 L1558.00 287.80 L1559.00 287.53 L1560.00 287.27 L1561.00 287.03 L1562.00 286.80 L1563.00 286.59 L1564.00 286.40 L1565.00 286.22 L1566.00 286.06 L1567.00 285.93 L1568.00 285.81 L1568.50 285.76" stroke="#ff0000" stroke-width="3.9" fill="none" stroke-linejoin="round" stroke-linecap="butt" stroke-dasharray="9.2 8.0"/>
<path d="M928.00 340.68 L929.00 339.72 L930.00 338.68 L931.00 337.57 L932.00 336.40 L933.00 335.18 L934.00 333.90 L935.00 332.58 L936.00 331.19 L937.00 329.67 L938.00 328.04 L939.00 326.37 L940.00 324.69 L941.00 323.06 L942.00 321.50 L943.00 319.97 L944.00 318.47 L945.00 316.98 L946.00 315.51 L947.00 314.04 L948.00 312.57 L949.00 311.10 L950.00 309.62 L951.00 308.13 L952.00 306.61 L953.00 305.07 L954.00 303.49 L955.00 301.88 L956.00 300.23 L957.00 298.56 L958.00 296.87 L959.00 295.16 L960.00 293.45 L961.00 291.74 L962.00 290.04 L963.00 288.36 L964.00 286.70 L965.00 285.07 L966.00 283.48 L967.00 281.90 L968.00 280.34 L969.00 278.78 L970.00 277.24 L971.00 275.71 L972.00 274.20 L973.00 272.70 L974.00 271.21 L975.00 269.75 L976.00 268.31 L977.00 266.88 L978.00 265.48 L979.00 264.11 L980.00 262.76 L981.00 261.44 L982.00 260.14 L983.00 258.86 L984.00 257.59 L985.00 256.33 L986.00 255.08 L987.00 253.83 L988.00 252.58 L989.00 251.32 L990.00 250.06 L991.00 248.78 L992.00 247.48 L993.00 246.15 L994.00 244.74 L995.00 243.27 L996.00 241.76 L997.00 240.25 L998.00 238.74 L999.00 237.27 L1000.00 235.85 L1001.00 234.52 L1002.00 233.29 L1003.00 232.19 L1004.00 231.24 L1005.00 230.46 L1006.00 229.76 L1007.00 229.14 L1008.00 228.57 L1009.00 228.05 L1010.00 227.55 L1011.00 227.06 L1012.00 226.57 L1013.00 226.07 L1014.00 225.53 L1015.00 224.94 L1016.00 224.25 L1017.00 223.47 L1018.00 222.64 L1019.00 221.79 L1020.00 220.96 L1021.00 220.17 L1022.00 219.46 L1023.00 218.85 L1024.00 218.40 L1025.00 218.11 L1026.00 218.03 L1027.00 218.06 L1028.00 218.12 L1029.00 218.20 L1030.00 218.29 L1031.00 218.39 L1032.00 218.49 L1033.00 218.57 L1034.00 218.62 L1035.00 218.64 L1036.00 218.61 L1037.00 218.52 L1038.00 218.38 L1039.00 218.23 L1040.00 218.06 L1041.00 217.90 L1042.00 217.77 L1043.00 217.67 L1044.00 217.63 L1045.00 217.71 L1046.00 218.02 L1047.00 218.51 L1048.00 219.16 L1049.00 219.92 L1050.00 220.76 L1051.00 221.65 L1052.00 222.54 L1053.00 223.42 L1054.00 224.23 L1055.00 224.94 L1056.00 225.55 L1057.00 226.09 L1058.00 226.60 L1059.00 227.09 L1060.00 227.58 L1061.00 228.07 L1062.00 228.59 L1063.00 229.15 L1064.00 229.77 L1065.00 230.47 L1066.00 231.26 L1067.00 232.25 L1068.00 233.41 L1069.00 234.70 L1070.00 236.09 L1071.00 237.54 L1072.00 239.01 L1073.00 240.48 L1074.00 241.90 L1075.00 243.24 L1076.00 244.46 L1077.00 245.59 L1078.00 246.67 L1079.00 247.71 L1080.00 248.74 L1081.00 249.78 L1082.00 250.85 L1083.00 251.98 L1084.00 253.18 L1085.00 254.48 L1086.00 255.91 L1087.00 257.48 L1088.00 259.14 L1089.00 260.88 L1090.00 262.65 L1091.00 264.43 L1092.00 266.19 L1093.00 267.90 L1094.00 269.53 L1095.00 271.10 L1096.00 272.63 L1097.00 274.15 L1098.00 275.64 L1099.00 277.12 L1100.00 278.60 L1101.00 280.06 L1102.00 281.53 L1103.00 283.01 L1104.00 284.50 L1105.00 286.00 L1106.00 287.52 L1107.00 289.07 L1108.00 290.62 L1109.00 292.19 L1110.00 293.77 L1111.00 295.36 L1112.00 296.95 L1113.00 298.54 L1114.00 300.14 L1115.00 301.74 L1116.00 303.33 L1117.00 304.93 L1118.00 306.51 L1119.00 308.10 L1120.00 309.72 L1121.00 311.35 L1122.00 313.00 L1123.00 314.65 L1124.00 316.29 L1125.00 317.92 L1126.00 319.53 L1127.00 321.12 L1128.00 322.66 L1129.00 324.17 L1130.00 325.62 L1131.00 327.01 L1132.00 328.37 L1133.00 329.69 L1134.00 330.98 L1135.00 332.24 L1136.00 333.46 L1137.00 334.65 L1138.00 335.80 L1139.00 336.92 L1140.00 338.02 L1141.00 339.12 L1142.00 340.22 L1143.00 341.30 L1144.00 342.37 L1145.00 343.43 L1146.00 344.46 L1147.00 345.47 L1148.00 346.46 L1149.00 347.42 L1150.00 348.34 L1151.00 349.23 L1152.00 350.08 L1153.00 350.89 L1154.00 351.65 L1155.00 352.37 L1156.00 353.02 L1157.00 353.63 L1158.00 354.18 L1159.00 354.72 L1160.00 355.24 L1161.00 355.76 L1162.00 356.29 L1163.00 356.86 L1164.00 357.46 L1165.00 358.11 L1166.00 358.77 L1167.00 359.43 L1168.00 360.09 L1169.00 360.73 L1170.00 361.33 L1171.00 361.88 L1172.00 362.41 L1173.00 362.98 L1174.00 363.55 L1175.00 364.08 L1176.00 364.54 L1177.00 364.88 L1178.00 365.06 L1179.00 365.06 L1180.00 365.02 L1181.00 364.94 L1182.00 364.83 L1183.00 364.70 L1184.00 364.56 L1185.00 364.41 L1186.00 364.27 L1187.00 364.13 L1188.00 364.00 L1189.00 363.88 L1190.00 363.77 L1191.00 363.65 L1192.00 363.52 L1193.00 363.36 L1194.00 363.18 L1195.00 362.95 L1196.00 362.57 L1197.00 362.05 L1198.00 361.41 L1199.00 360.69 L1200.00 359.90 L1201.00 359.09 L1202.00 358.29 L1203.00 357.52 L1204.00 356.81 L1205.00 356.14 L1206.00 355.49 L1207.00 354.85 L1208.00 354.20 L1209.00 353.55 L1210.00 352.87 L1211.00 352.17 L1212.00 351.43 L1213.00 350.64 L1214.00 349.80 L1215.00 348.88 L1216.00 347.88 L1217.00 346.80 L1218.00 345.67 L1219.00 344.49 L1220.00 343.28 L1221.00 342.05 L1222.00 340.81 L1223.00 339.55 L1224.00 338.25 L1225.00 336.90 L1226.00 335.52 L1227.00 334.12 L1228.00 332.70 L1229.00 331.27 L1230.00 329.84 L1231.00 328.40 L1232.00 326.94 L1233.00 325.47 L1234.00 323.98 L1235.00 322.48 L1236.00 320.97 L1237.00 319.45 L1238.00 317.93 L1239.00 316.40 L1240.00 314.88 L1241.00 313.37 L1242.00 311.86 L1243.00 310.36 L1244.00 308.87 L1245.00 307.38 L1246.00 305.90 L1247.00 304.43 L1248.00 302.95 L1249.00 301.46 L1250.00 299.97 L1251.00 298.47 L1252.00 296.96 L1253.00 295.44 L1254.00 293.89 L1255.00 292.33 L1256.00 290.73 L1257.00 289.10 L1258.00 287.45 L1259.00 285.78 L1260.00 284.11 L1261.00 282.43 L1262.00 280.77 L1263.00 279.11 L1264.00 277.48 L1265.00 275.88 L1266.00 274.32 L1267.00 272.78 L1268.00 271.25 L1269.00 269.73 L1270.00 268.22 L1271.00 266.72 L1272.00 265.24 L1273.00 263.77 L1274.00 262.32 L1275.00 260.88 L1276.00 259.47 L1277.00 258.07 L1278.00 256.69 L1279.00 255.33 L1280.00 253.99 L1281.00 252.67 L1282.00 251.36 L1283.00 250.07 L1284.00 248.79 L1285.00 247.53 L1286.00 246.29 L1287.00 245.06 L1288.00 243.85 L1289.00 242.65 L1290.00 241.47 L1291.00 240.30 L1292.00 239.13 L1293.00 237.93 L1294.00 236.70 L1295.00 235.45 L1296.00 234.21 L1297.00 232.98 L1298.00 231.77 L1299.00 230.60 L1300.00 229.48 L1301.00 228.42 L1302.00 227.43 L1303.00 226.53 L1304.00 225.73 L1305.00 225.04 L1306.00 224.47 L1307.00 223.96 L1308.00 223.50 L1309.00 223.09 L1310.00 222.71 L1311.00 222.35 L1312.00 222.00 L1313.00 221.66 L1314.00 221.30 L1315.00 220.94 L1316.00 220.54 L1317.00 220.09 L1318.00 219.59 L1319.00 219.06 L1320.00 218.53 L1321.00 218.01 L1322.00 217.52 L1323.00 217.08 L1324.00 216.71 L1325.00 216.43 L1326.00 216.25 L1327.00 216.20 L1328.00 216.26 L1329.00 216.40 L1330.00 216.60 L1331.00 216.86 L1332.00 217.15 L1333.00 217.46 L1334.00 217.78 L1335.00 218.09 L1336.00 218.38 L1337.00 218.64 L1338.00 218.85 L1339.00 219.05 L1340.00 219.23 L1341.00 219.40 L1342.00 219.59 L1343.00 219.79 L1344.00 220.02 L1345.00 220.29 L1346.00 220.61 L1347.00 221.05 L1348.00 221.67 L1349.00 222.44 L1350.00 223.31 L1351.00 224.23 L1352.00 225.15 L1353.00 226.19 L1354.00 227.38 L1355.00 228.56 L1356.00 229.56 L1357.00 230.23 L1358.00 230.78 L1359.00 231.46 L1360.00 232.18 L1361.00 232.96 L1362.00 233.77 L1363.00 234.64 L1364.00 235.55 L1365.00 236.52 L1366.00 237.53 L1367.00 238.60 L1368.00 239.80 L1369.00 241.15 L1370.00 242.61 L1371.00 244.16 L1372.00 245.76 L1373.00 247.37 L1374.00 248.97 L1375.00 250.51 L1376.00 251.97 L1377.00 253.30 L1378.00 254.55 L1379.00 255.72 L1380.00 256.86 L1381.00 257.97 L1382.00 259.09 L1383.00 260.24 L1384.00 261.44 L1385.00 262.72 L1386.00 264.11 L1387.00 265.65 L1388.00 267.39 L1389.00 269.29 L1390.00 271.27 L1391.00 273.30 L1392.00 275.31 L1393.00 277.25 L1394.00 279.07 L1395.00 280.70 L1396.00 282.12 L1397.00 283.42 L1398.00 284.71 L1399.00 286.07 L1400.00 287.49 L1401.00 288.95 L1402.00 290.42 L1403.00 291.91 L1404.00 293.42 L1405.00 294.94 L1406.00 296.47 L1407.00 298.01 L1408.00 299.54 L1409.00 301.06 L1410.00 302.58 L1411.00 304.09 L1412.00 305.59 L1413.00 307.10 L1414.00 308.61 L1415.00 310.12 L1416.00 311.63 L1417.00 313.14 L1418.00 314.65 L1419.00 316.16 L1420.00 317.65 L1421.00 319.14 L1422.00 320.63 L1423.00 322.10 L1424.00 323.57 L1425.00 325.07 L1426.00 326.60 L1427.00 328.13 L1428.00 329.67 L1429.00 331.20 L1430.00 332.71 L1431.00 334.20 L1432.00 335.67 L1433.00 337.09 L1434.00 338.47 L1435.00 339.79 L1436.00 341.05 L1437.00 342.23 L1438.00 343.34 L1439.00 344.42 L1440.00 345.46 L1441.00 346.48 L1442.00 347.46 L1443.00 348.41 L1444.00 349.33 L1445.00 350.21 L1446.00 351.07 L1447.00 351.89 L1448.00 352.68 L1449.00 353.43 L1450.00 354.16 L1451.00 354.87 L1452.00 355.56 L1453.00 356.23 L1454.00 356.87 L1455.00 357.49 L1456.00 358.08 L1457.00 358.64 L1458.00 359.16 L1459.00 359.64 L1460.00 360.08 L1461.00 360.48 L1462.00 360.86 L1463.00 361.22 L1464.00 361.56 L1465.00 361.88 L1466.00 362.18 L1467.00 362.48 L1468.00 362.77 L1469.00 363.06 L1470.00 363.36 L1471.00 363.69 L1472.00 364.02 L1473.00 364.34 L1474.00 364.63 L1475.00 364.85 L1476.00 365.01 L1477.00 365.07 L1478.00 365.03 L1479.00 364.89 L1480.00 364.68 L1481.00 364.40 L1482.00 364.09 L1483.00 363.74 L1484.00 363.38 L1485.00 363.03 L1486.00 362.70 L1487.00 362.40 L1488.00 362.09 L1489.00 361.79 L1490.00 361.48 L1491.00 361.15 L1492.00 360.81 L1493.00 360.44 L1494.00 360.05 L1495.00 359.62 L1496.00 359.16 L1497.00 358.65 L1498.00 358.04 L1499.00 357.35 L1500.00 356.59 L1501.00 355.77 L1502.00 354.90 L1503.00 354.01 L1504.00 353.11 L1505.00 352.21 L1506.00 351.32 L1507.00 350.47 L1508.00 349.62 L1509.00 348.78 L1510.00 347.94 L1511.00 347.09 L1512.00 346.23 L1513.00 345.34 L1514.00 344.44 L1515.00 343.51 L1516.00 342.54 L1517.00 341.54 L1518.00 340.49 L1519.00 339.39 L1520.00 338.21 L1521.00 336.94 L1522.00 335.60 L1523.00 334.20 L1524.00 332.76 L1525.00 331.27 L1526.00 329.77 L1527.00 328.25 L1528.00 326.74 L1529.00 325.24 L1530.00 323.76 L1531.00 322.32 L1532.00 320.91 L1533.00 319.51 L1534.00 318.12 L1535.00 316.73 L1536.00 315.33 L1537.00 313.94 L1538.00 312.54 L1539.00 311.13 L1540.00 309.71 L1541.00 308.27 L1542.00 306.81 L1543.00 305.34 L1544.00 303.84 L1545.00 302.33 L1546.00 300.81 L1547.00 299.27 L1548.00 297.73 L1549.00 296.16 L1550.00 294.59 L1551.00 292.99 L1552.00 291.37 L1553.00 289.73 L1554.00 288.08 L1555.00 286.39 L1556.00 284.69 L1557.00 282.96 L1558.00 281.21 L1559.00 279.44 L1560.00 277.64 L1561.00 275.83 L1562.00 273.99 L1563.00 272.13 L1564.00 270.25 L1565.00 268.35 L1566.00 266.43 L1567.00 264.49 L1568.00 262.53 L1568.50 261.54" stroke="#00aa00" stroke-width="4.5" fill="none" stroke-linejoin="round" stroke-linecap="butt"/>
<path d="M905.90 654.40 L906.90 654.54 L907.90 654.69 L908.90 654.82 L909.90 654.93 L910.90 655.02 L911.90 655.08 L912.90 655.10 L913.90 655.08 L914.90 655.00 L915.90 654.87 L916.90 654.68 L917.90 654.44 L918.90 654.15 L919.90 653.83 L920.90 653.47 L921.90 653.08 L922.90 652.67 L923.90 652.24 L924.90 651.81 L925.90 651.36 L926.90 650.92 L927.90 650.46 L928.90 650.01 L929.90 649.56 L930.90 649.11 L931.90 648.66 L932.90 648.21 L933.90 647.77 L934.90 647.34 L935.90 646.92 L936.90 646.51 L937.90 646.13 L938.90 645.77 L939.90 645.43 L940.90 645.13 L941.90 644.86 L942.90 644.64 L943.90 644.45 L944.90 644.31 L945.90 644.22 L946.90 644.17 L947.90 644.17 L948.90 644.22 L949.90 644.32 L950.90 644.47 L951.90 644.67 L952.90 644.92 L953.90 645.22 L954.90 645.57 L955.90 645.95 L956.90 646.36 L957.90 646.80 L958.90 647.25 L959.90 647.72 L960.90 648.19 L961.90 648.67 L962.90 649.14 L963.90 649.62 L964.90 650.08 L965.90 650.54 L966.90 650.99 L967.90 651.42 L968.90 651.84 L969.90 652.24 L970.90 652.62 L971.90 652.98 L972.90 653.30 L973.90 653.59 L974.90 653.85 L975.90 654.06 L976.90 654.22 L977.90 654.34 L978.90 654.40 L979.90 654.40 L980.90 654.35 L981.90 654.25 L982.90 654.09 L983.90 653.89 L984.90 653.64 L985.90 653.34 L986.90 653.00 L987.90 652.61 L988.90 652.19 L989.90 651.73 L990.90 651.25 L991.90 650.74 L992.90 650.21 L993.90 649.67 L994.90 649.13 L995.90 648.58 L996.90 648.05 L997.90 647.52 L998.90 647.01 L999.90 646.52 L1000.90 646.07 L1001.90 645.65 L1002.90 645.27 L1003.90 644.94 L1004.90 644.66 L1005.90 644.45 L1006.90 644.29 L1007.90 644.19 L1008.90 644.14 L1009.90 644.14 L1010.90 644.20 L1011.90 644.30 L1012.90 644.45 L1013.90 644.64 L1014.90 644.87 L1015.90 645.14 L1016.90 645.45 L1017.90 645.78 L1018.90 646.15 L1019.90 646.53 L1020.90 646.94 L1021.90 647.35 L1022.90 647.78 L1023.90 648.22 L1024.90 648.66 L1025.90 649.11 L1026.90 649.56 L1027.90 650.01 L1028.90 650.46 L1029.90 650.92 L1030.90 651.37 L1031.90 651.82 L1032.90 652.27 L1033.90 652.71 L1034.90 653.14 L1035.90 653.55 L1036.90 653.93 L1037.90 654.28 L1038.90 654.59 L1039.90 654.86 L1040.90 655.07 L1041.90 655.23 L1042.90 655.34 L1043.90 655.40 L1044.90 655.40 L1045.90 655.36 L1046.90 655.27 L1047.90 655.13 L1048.90 654.94 L1049.90 654.72 L1050.90 654.45 L1051.90 654.14 L1052.90 653.80 L1053.90 653.43 L1054.90 653.03 L1055.90 652.62 L1056.90 652.18 L1057.90 651.73 L1058.90 651.28 L1059.90 650.81 L1060.90 650.35 L1061.90 649.88 L1062.90 649.42 L1063.90 648.97 L1064.90 648.52 L1065.90 648.08 L1066.90 647.66 L1067.90 647.25 L1068.90 646.87 L1069.90 646.51 L1070.90 646.18 L1071.90 645.90 L1072.90 645.66 L1073.90 645.48 L1074.90 645.37 L1075.90 645.32 L1076.90 645.34 L1077.90 645.45 L1078.90 645.62 L1079.90 645.86 L1080.90 646.16 L1081.90 646.51 L1082.90 646.89 L1083.90 647.31 L1084.90 647.76 L1085.90 648.22 L1086.90 648.70 L1087.90 649.19 L1088.90 649.69 L1089.90 650.19 L1090.90 650.69 L1091.90 651.19 L1092.90 651.69 L1093.90 652.17 L1094.90 652.65 L1095.90 653.11 L1096.90 653.55 L1097.90 653.97 L1098.90 654.36 L1099.90 654.74 L1100.90 655.08 L1101.90 655.40 L1102.90 655.68 L1103.90 655.92 L1104.90 656.13 L1105.90 656.30 L1106.90 656.43 L1107.90 656.52 L1108.90 656.58 L1109.90 656.59 L1110.90 656.57 L1111.90 656.50 L1112.90 656.40 L1113.90 656.26 L1114.90 656.07 L1115.90 655.85 L1116.90 655.59 L1117.90 655.30 L1118.90 654.96 L1119.90 654.60 L1120.90 654.19 L1121.90 653.76 L1122.90 653.29 L1123.90 652.79 L1124.90 652.26 L1125.90 651.73 L1126.90 651.19 L1127.90 650.66 L1128.90 650.14 L1129.90 649.65 L1130.90 649.19 L1131.90 648.78 L1132.90 648.42 L1133.90 648.11 L1134.90 647.86 L1135.90 647.65 L1136.90 647.48 L1137.90 647.37 L1138.90 647.29 L1139.90 647.26 L1140.90 647.26 L1141.90 647.30 L1142.90 647.37 L1143.90 647.48 L1144.90 647.62 L1145.90 647.79 L1146.90 647.98 L1147.90 648.20 L1148.90 648.44 L1149.90 648.70 L1150.90 648.98 L1151.90 649.28 L1152.90 649.59 L1153.90 649.92 L1154.90 650.26 L1155.90 650.61 L1156.90 650.96 L1157.90 651.32 L1158.90 651.68 L1159.90 652.04 L1160.90 652.41 L1161.90 652.77 L1162.90 653.12 L1163.90 653.47 L1164.90 653.81 L1165.90 654.14 L1166.90 654.46 L1167.90 654.76 L1168.90 655.05 L1169.90 655.30 L1170.90 655.53 L1171.90 655.72 L1172.90 655.86 L1173.90 655.96 L1174.90 656.00 L1175.90 655.98 L1176.90 655.90 L1177.90 655.76 L1178.90 655.56 L1179.90 655.31 L1180.90 655.02 L1181.90 654.68 L1182.90 654.31 L1183.90 653.91 L1184.90 653.49 L1185.90 653.04 L1186.90 652.58 L1187.90 652.10 L1188.90 651.60 L1189.90 651.08 L1190.90 650.56 L1191.90 650.02 L1192.90 649.47 L1193.90 648.90 L1194.90 648.34 L1195.90 647.77 L1196.90 647.21 L1197.90 646.68 L1198.90 646.16 L1199.90 645.68 L1200.90 645.24 L1201.90 644.84 L1202.90 644.50 L1203.90 644.22 L1204.90 644.00 L1205.90 643.84 L1206.90 643.73 L1207.90 643.69 L1208.90 643.71 L1209.90 643.78 L1210.90 643.92 L1211.90 644.12 L1212.90 644.39 L1213.90 644.71 L1214.90 645.08 L1215.90 645.49 L1216.90 645.94 L1217.90 646.41 L1218.90 646.90 L1219.90 647.39 L1220.90 647.87 L1221.90 648.35 L1222.90 648.81 L1223.90 649.25 L1224.90 649.67 L1225.90 650.09 L1226.90 650.49 L1227.90 650.89 L1228.90 651.27 L1229.90 651.66 L1230.90 652.04 L1231.90 652.42 L1232.90 652.79 L1233.90 653.14 L1234.90 653.47 L1235.90 653.76 L1236.90 654.01 L1237.90 654.20 L1238.90 654.34 L1239.90 654.41 L1240.90 654.42 L1241.90 654.36 L1242.90 654.24 L1243.90 654.06 L1244.90 653.83 L1245.90 653.55 L1246.90 653.22 L1247.90 652.85 L1248.90 652.43 L1249.90 651.97 L1250.90 651.49 L1251.90 650.99 L1252.90 650.47 L1253.90 649.95 L1254.90 649.43 L1255.90 648.92 L1256.90 648.43 L1257.90 647.96 L1258.90 647.51 L1259.90 647.09 L1260.90 646.69 L1261.90 646.32 L1262.90 645.98 L1263.90 645.66 L1264.90 645.38 L1265.90 645.13 L1266.90 644.91 L1267.90 644.73 L1268.90 644.59 L1269.90 644.50 L1270.90 644.45 L1271.90 644.44 L1272.90 644.49 L1273.90 644.59 L1274.90 644.74 L1275.90 644.96 L1276.90 645.22 L1277.90 645.52 L1278.90 645.87 L1279.90 646.24 L1280.90 646.65 L1281.90 647.07 L1282.90 647.51 L1283.90 647.96 L1284.90 648.41 L1285.90 648.87 L1286.90 649.32 L1287.90 649.78 L1288.90 650.23 L1289.90 650.68 L1290.90 651.12 L1291.90 651.56 L1292.90 651.98 L1293.90 652.39 L1294.90 652.79 L1295.90 653.17 L1296.90 653.54 L1297.90 653.88 L1298.90 654.20 L1299.90 654.49 L1300.90 654.76 L1301.90 655.00 L1302.90 655.20 L1303.90 655.37 L1304.90 655.50 L1305.90 655.58 L1306.90 655.62 L1307.90 655.61 L1308.90 655.54 L1309.90 655.41 L1310.90 655.22 L1311.90 654.98 L1312.90 654.68 L1313.90 654.33 L1314.90 653.95 L1315.90 653.54 L1316.90 653.10 L1317.90 652.65 L1318.90 652.18 L1319.90 651.71 L1320.90 651.24 L1321.90 650.77 L1322.90 650.31 L1323.90 649.85 L1324.90 649.39 L1325.90 648.95 L1326.90 648.52 L1327.90 648.10 L1328.90 647.69 L1329.90 647.31 L1330.90 646.95 L1331.90 646.62 L1332.90 646.34 L1333.90 646.10 L1334.90 645.91 L1335.90 645.79 L1336.90 645.74 L1337.90 645.76 L1338.90 645.86 L1339.90 646.03 L1340.90 646.26 L1341.90 646.53 L1342.90 646.84 L1343.90 647.17 L1344.90 647.53 L1345.90 647.89 L1346.90 648.25 L1347.90 648.61 L1348.90 648.97 L1349.90 649.34 L1350.90 649.71 L1351.90 650.10 L1352.90 650.50 L1353.90 650.91 L1354.90 651.35 L1355.90 651.80 L1356.90 652.26 L1357.90 652.74 L1358.90 653.21 L1359.90 653.67 L1360.90 654.11 L1361.90 654.52 L1362.90 654.91 L1363.90 655.25 L1364.90 655.54 L1365.90 655.78 L1366.90 655.97 L1367.90 656.10 L1368.90 656.19 L1369.90 656.24 L1370.90 656.23 L1371.90 656.19 L1372.90 656.10 L1373.90 655.96 L1374.90 655.79 L1375.90 655.58 L1376.90 655.34 L1377.90 655.06 L1378.90 654.75 L1379.90 654.42 L1380.90 654.06 L1381.90 653.67 L1382.90 653.27 L1383.90 652.85 L1384.90 652.42 L1385.90 651.98 L1386.90 651.53 L1387.90 651.07 L1388.90 650.61 L1389.90 650.16 L1390.90 649.70 L1391.90 649.26 L1392.90 648.83 L1393.90 648.41 L1394.90 648.01 L1395.90 647.64 L1396.90 647.29 L1397.90 646.98 L1398.90 646.71 L1399.90 646.48 L1400.90 646.30 L1401.90 646.17 L1402.90 646.09 L1403.90 646.06 L1404.90 646.08 L1405.90 646.15 L1406.90 646.27 L1407.90 646.44 L1408.90 646.66 L1409.90 646.92 L1410.90 647.23 L1411.90 647.57 L1412.90 647.95 L1413.90 648.36 L1414.90 648.79 L1415.90 649.24 L1416.90 649.71 L1417.90 650.18 L1418.90 650.66 L1419.90 651.14 L1420.90 651.62 L1421.90 652.09 L1422.90 652.55 L1423.90 653.00 L1424.90 653.44 L1425.90 653.85 L1426.90 654.24 L1427.90 654.61 L1428.90 654.94 L1429.90 655.24 L1430.90 655.49 L1431.90 655.70 L1432.90 655.86 L1433.90 655.95 L1434.90 655.98 L1435.90 655.94 L1436.90 655.83 L1437.90 655.66 L1438.90 655.43 L1439.90 655.15 L1440.90 654.83 L1441.90 654.48 L1442.90 654.11 L1443.90 653.72 L1444.90 653.33 L1445.90 652.93 L1446.90 652.53 L1447.90 652.12 L1448.90 651.72 L1449.90 651.31 L1450.90 650.90 L1451.90 650.50 L1452.90 650.09 L1453.90 649.68 L1454.90 649.28 L1455.90 648.88 L1456.90 648.48 L1457.90 648.08 L1458.90 647.70 L1459.90 647.32 L1460.90 646.96 L1461.90 646.60 L1462.90 646.26 L1463.90 645.94 L1464.90 645.64 L1465.90 645.37 L1466.90 645.13 L1467.90 644.93 L1468.90 644.78 L1469.90 644.69 L1470.90 644.66 L1471.90 644.70 L1472.90 644.82 L1473.90 645.00 L1474.90 645.24 L1475.90 645.54 L1476.90 645.89 L1477.90 646.27 L1478.90 646.68 L1479.90 647.10 L1480.90 647.54 L1481.90 647.99 L1482.90 648.44 L1483.90 648.89 L1484.90 649.35 L1485.90 649.80 L1486.90 650.26 L1487.90 650.71 L1488.90 651.16 L1489.90 651.60 L1490.90 652.03 L1491.90 652.44 L1492.90 652.84 L1493.90 653.20 L1494.90 653.53 L1495.90 653.82 L1496.90 654.07 L1497.90 654.26 L1498.90 654.40 L1499.90 654.47 L1500.90 654.49 L1501.90 654.45 L1502.90 654.37 L1503.90 654.24 L1504.90 654.07 L1505.90 653.86 L1506.90 653.62 L1507.90 653.35 L1508.90 653.05 L1509.90 652.73 L1510.90 652.38 L1511.90 652.00 L1512.90 651.61 L1513.90 651.19 L1514.90 650.74 L1515.90 650.28 L1516.90 649.80 L1517.90 649.30 L1518.90 648.79 L1519.90 648.28 L1520.90 647.78 L1521.90 647.28 L1522.90 646.80 L1523.90 646.35 L1524.90 645.92 L1525.90 645.53 L1526.90 645.17 L1527.90 644.85 L1528.90 644.57 L1529.90 644.34 L1530.90 644.14 L1531.90 644.00 L1532.90 643.90 L1533.90 643.85 L1534.90 643.86 L1535.90 643.91 L1536.90 644.01 L1537.90 644.16 L1538.90 644.35 L1539.90 644.59 L1540.90 644.86 L1541.90 645.18 L1542.90 645.53 L1543.90 645.91 L1544.90 646.33 L1545.90 646.77 L1546.90 647.23 L1547.90 647.70 L1548.90 648.18 L1549.90 648.67 L1550.90 649.16 L1551.90 649.64 L1552.90 650.11 L1553.90 650.57 L1554.90 651.01 L1555.90 651.45 L1556.90 651.87 L1557.90 652.29 L1558.90 652.71 L1559.90 653.11 L1560.90 653.52 L1561.90 653.93 L1562.90 654.33 L1563.90 654.74 L1564.90 655.15 L1565.90 655.57 L1566.90 655.99 L1567.90 656.42 L1568.60 656.73" stroke="#000" stroke-width="3.6" fill="none" stroke-linejoin="round" stroke-linecap="butt" stroke-dasharray="2.6 7.4"/>
<path d="M905.90 690.00 L906.90 690.15 L907.90 690.44 L908.90 690.83 L909.90 691.31 L910.90 691.83 L911.90 692.42 L912.90 693.20 L913.90 694.18 L914.90 695.31 L915.90 696.57 L916.90 697.94 L917.90 699.39 L918.90 700.89 L919.90 702.42 L920.90 703.97 L921.90 705.67 L922.90 707.53 L923.90 709.51 L924.90 711.59 L925.90 713.73 L926.90 715.90 L927.90 718.07 L928.90 720.22 L929.90 722.39 L930.90 724.59 L931.90 726.84 L932.90 729.13 L933.90 731.47 L934.90 733.86 L935.90 736.31 L936.90 738.86 L937.90 741.51 L938.90 744.21 L939.90 746.94 L940.90 749.67 L941.90 752.35 L942.90 755.02 L943.90 757.69 L944.90 760.35 L945.90 763.02 L946.90 765.69 L947.90 768.35 L948.90 770.99 L949.90 773.58 L950.90 776.17 L951.90 778.80 L952.90 781.51 L953.90 784.34 L954.90 787.38 L955.90 790.63 L956.90 793.97 L957.90 797.25 L958.90 800.35 L959.90 803.22 L960.90 805.93 L961.90 808.56 L962.90 811.14 L963.90 813.73 L964.90 816.39 L965.90 819.14 L966.90 821.94 L967.90 824.77 L968.90 827.60 L969.90 830.38 L970.90 833.12 L971.90 835.82 L972.90 838.49 L973.90 841.15 L974.90 843.80 L975.90 846.43 L976.90 849.06 L977.90 851.70 L978.90 854.35 L979.90 856.98 L980.90 859.58 L981.90 862.13 L982.90 864.61 L983.90 867.03 L984.90 869.46 L985.90 871.87 L986.90 874.22 L987.90 876.47 L988.90 878.57 L989.90 880.48 L990.90 882.24 L991.90 883.91 L992.90 885.49 L993.90 886.98 L994.90 888.38 L995.90 889.70 L996.90 890.92 L997.90 892.09 L998.90 893.20 L999.90 894.25 L1000.90 895.23 L1001.90 896.15 L1002.90 897.00 L1003.90 897.79 L1004.90 898.62 L1005.90 899.47 L1006.90 900.25 L1007.90 900.93 L1008.90 901.42 L1009.90 901.67 L1010.90 901.69 L1011.90 901.69 L1012.90 901.69 L1013.90 901.69 L1014.90 901.69 L1015.90 901.64 L1016.90 901.32 L1017.90 900.79 L1018.90 900.14 L1019.90 899.48 L1020.90 898.87 L1021.90 898.23 L1022.90 897.56 L1023.90 896.84 L1024.90 896.06 L1025.90 895.24 L1026.90 894.35 L1027.90 893.39 L1028.90 892.34 L1029.90 891.19 L1030.90 889.95 L1031.90 888.62 L1032.90 887.21 L1033.90 885.72 L1034.90 884.08 L1035.90 882.23 L1036.90 880.22 L1037.90 878.11 L1038.90 875.96 L1039.90 873.82 L1040.90 871.76 L1041.90 869.75 L1042.90 867.77 L1043.90 865.80 L1044.90 863.83 L1045.90 861.84 L1046.90 859.83 L1047.90 857.78 L1048.90 855.68 L1049.90 853.52 L1050.90 851.27 L1051.90 848.93 L1052.90 846.43 L1053.90 843.79 L1054.90 841.06 L1055.90 838.29 L1056.90 835.54 L1057.90 832.85 L1058.90 830.23 L1059.90 827.64 L1060.90 825.04 L1061.90 822.40 L1062.90 819.68 L1063.90 816.82 L1064.90 813.78 L1065.90 810.60 L1066.90 807.33 L1067.90 804.04 L1068.90 800.79 L1069.90 797.59 L1070.90 794.39 L1071.90 791.19 L1072.90 787.99 L1073.90 784.79 L1074.90 781.55 L1075.90 778.26 L1076.90 774.99 L1077.90 771.80 L1078.90 768.75 L1079.90 765.87 L1080.90 763.07 L1081.90 760.37 L1082.90 757.73 L1083.90 755.17 L1084.90 752.66 L1085.90 750.22 L1086.90 747.86 L1087.90 745.57 L1088.90 743.32 L1089.90 741.09 L1090.90 738.86 L1091.90 736.61 L1092.90 734.32 L1093.90 732.00 L1094.90 729.66 L1095.90 727.33 L1096.90 725.03 L1097.90 722.76 L1098.90 720.55 L1099.90 718.39 L1100.90 716.21 L1101.90 714.00 L1102.90 711.83 L1103.90 709.72 L1104.90 707.71 L1105.90 705.85 L1106.90 704.16 L1107.90 702.68 L1108.90 701.26 L1109.90 699.86 L1110.90 698.51 L1111.90 697.21 L1112.90 695.98 L1113.90 694.84 L1114.90 693.80 L1115.90 692.87 L1116.90 692.08 L1117.90 691.43 L1118.90 690.93 L1119.90 690.50 L1120.90 690.08 L1121.90 689.69 L1122.90 689.31 L1123.90 688.97 L1124.90 688.65 L1125.90 688.37 L1126.90 688.13 L1127.90 687.94 L1128.90 687.79 L1129.90 687.70 L1130.90 687.66 L1131.90 687.71 L1132.90 687.87 L1133.90 688.13 L1134.90 688.46 L1135.90 688.84 L1136.90 689.28 L1137.90 689.95 L1138.90 690.85 L1139.90 691.93 L1140.90 693.16 L1141.90 694.50 L1142.90 695.93 L1143.90 697.42 L1144.90 698.92 L1145.90 700.40 L1146.90 701.85 L1147.90 703.38 L1148.90 704.99 L1149.90 706.68 L1150.90 708.44 L1151.90 710.26 L1152.90 712.15 L1153.90 714.09 L1154.90 716.07 L1155.90 718.19 L1156.90 720.42 L1157.90 722.74 L1158.90 725.11 L1159.90 727.49 L1160.90 729.85 L1161.90 732.16 L1162.90 734.42 L1163.90 736.65 L1164.90 738.88 L1165.90 741.12 L1166.90 743.41 L1167.90 745.75 L1168.90 748.18 L1169.90 750.68 L1170.90 753.23 L1171.90 755.85 L1172.90 758.55 L1173.90 761.33 L1174.90 764.19 L1175.90 767.25 L1176.90 770.52 L1177.90 773.85 L1178.90 777.13 L1179.90 780.22 L1180.90 783.04 L1181.90 785.70 L1182.90 788.26 L1183.90 790.81 L1184.90 793.43 L1185.90 796.20 L1186.90 799.21 L1187.90 802.44 L1188.90 805.77 L1189.90 809.07 L1190.90 812.20 L1191.90 815.09 L1192.90 817.84 L1193.90 820.50 L1194.90 823.10 L1195.90 825.68 L1196.90 828.29 L1197.90 830.95 L1198.90 833.62 L1199.90 836.29 L1200.90 838.95 L1201.90 841.62 L1202.90 844.29 L1203.90 846.97 L1204.90 849.76 L1205.90 852.59 L1206.90 855.38 L1207.90 858.05 L1208.90 860.52 L1209.90 862.73 L1210.90 864.75 L1211.90 866.63 L1212.90 868.41 L1213.90 870.13 L1214.90 871.82 L1215.90 873.52 L1216.90 875.26 L1217.90 877.09 L1218.90 879.03 L1219.90 881.00 L1220.90 882.95 L1221.90 884.81 L1222.90 886.52 L1223.90 888.05 L1224.90 889.52 L1225.90 890.93 L1226.90 892.26 L1227.90 893.48 L1228.90 894.58 L1229.90 895.53 L1230.90 896.35 L1231.90 897.12 L1232.90 897.84 L1233.90 898.51 L1234.90 899.12 L1235.90 899.67 L1236.90 900.16 L1237.90 900.58 L1238.90 900.93 L1239.90 901.28 L1240.90 901.56 L1241.90 901.69 L1242.90 901.66 L1243.90 901.52 L1244.90 901.30 L1245.90 901.01 L1246.90 900.66 L1247.90 900.27 L1248.90 899.85 L1249.90 899.42 L1250.90 898.97 L1251.90 898.44 L1252.90 897.81 L1253.90 897.09 L1254.90 896.28 L1255.90 895.40 L1256.90 894.45 L1257.90 893.41 L1258.90 892.18 L1259.90 890.78 L1260.90 889.24 L1261.90 887.60 L1262.90 885.90 L1263.90 884.19 L1264.90 882.45 L1265.90 880.63 L1266.90 878.73 L1267.90 876.74 L1268.90 874.66 L1269.90 872.49 L1270.90 870.22 L1271.90 867.76 L1272.90 865.10 L1273.90 862.29 L1274.90 859.41 L1275.90 856.51 L1276.90 853.66 L1277.90 850.91 L1278.90 848.22 L1279.90 845.55 L1280.90 842.89 L1281.90 840.24 L1282.90 837.59 L1283.90 834.93 L1284.90 832.30 L1285.90 829.72 L1286.90 827.12 L1287.90 824.48 L1288.90 821.76 L1289.90 818.90 L1290.90 815.82 L1291.90 812.54 L1292.90 809.21 L1293.90 805.94 L1294.90 802.88 L1295.90 800.04 L1296.90 797.32 L1297.90 794.68 L1298.90 792.09 L1299.90 789.50 L1300.90 786.88 L1301.90 784.24 L1302.90 781.65 L1303.90 779.06 L1304.90 776.44 L1305.90 773.74 L1306.90 770.93 L1307.90 767.92 L1308.90 764.69 L1309.90 761.35 L1310.90 758.05 L1311.90 754.92 L1312.90 752.00 L1313.90 749.15 L1314.90 746.37 L1315.90 743.69 L1316.90 741.13 L1317.90 738.70 L1318.90 736.43 L1319.90 734.33 L1320.90 732.35 L1321.90 730.43 L1322.90 728.54 L1323.90 726.62 L1324.90 724.62 L1325.90 722.48 L1326.90 720.15 L1327.90 717.69 L1328.90 715.21 L1329.90 712.77 L1330.90 710.48 L1331.90 708.42 L1332.90 706.65 L1333.90 705.00 L1334.90 703.41 L1335.90 701.89 L1336.90 700.46 L1337.90 699.12 L1338.90 697.88 L1339.90 696.76 L1340.90 695.77 L1341.90 694.90 L1342.90 694.07 L1343.90 693.25 L1344.90 692.43 L1345.90 691.64 L1346.90 690.88 L1347.90 690.15 L1348.90 689.48 L1349.90 688.87 L1350.90 688.32 L1351.90 687.85 L1352.90 687.47 L1353.90 687.19 L1354.90 687.01 L1355.90 686.95 L1356.90 687.08 L1357.90 687.42 L1358.90 687.89 L1359.90 688.40 L1360.90 688.89 L1361.90 689.43 L1362.90 690.03 L1363.90 690.67 L1364.90 691.37 L1365.90 692.12 L1366.90 692.91 L1367.90 693.75 L1368.90 694.62 L1369.90 695.55 L1370.90 696.56 L1371.90 697.66 L1372.90 698.85 L1373.90 700.11 L1374.90 701.44 L1375.90 702.83 L1376.90 704.27 L1377.90 705.75 L1378.90 707.26 L1379.90 708.81 L1380.90 710.45 L1381.90 712.18 L1382.90 714.00 L1383.90 715.89 L1384.90 717.85 L1385.90 719.85 L1386.90 721.89 L1387.90 723.95 L1388.90 726.06 L1389.90 728.24 L1390.90 730.49 L1391.90 732.79 L1392.90 735.15 L1393.90 737.55 L1394.90 740.00 L1395.90 742.54 L1396.90 745.17 L1397.90 747.87 L1398.90 750.59 L1399.90 753.32 L1400.90 756.02 L1401.90 758.65 L1402.90 761.24 L1403.90 763.83 L1404.90 766.46 L1405.90 769.16 L1406.90 771.99 L1407.90 774.98 L1408.90 778.14 L1409.90 781.39 L1410.90 784.69 L1411.90 787.95 L1412.90 791.18 L1413.90 794.46 L1414.90 797.74 L1415.90 800.95 L1416.90 804.02 L1417.90 806.91 L1418.90 809.66 L1419.90 812.32 L1420.90 814.92 L1421.90 817.50 L1422.90 820.11 L1423.90 822.77 L1424.90 825.44 L1425.90 828.11 L1426.90 830.77 L1427.90 833.44 L1428.90 836.11 L1429.90 838.78 L1430.90 841.46 L1431.90 844.15 L1432.90 846.84 L1433.90 849.50 L1434.90 852.14 L1435.90 854.75 L1436.90 857.31 L1437.90 859.76 L1438.90 862.17 L1439.90 864.56 L1440.90 866.87 L1441.90 869.10 L1442.90 871.22 L1443.90 873.21 L1444.90 875.13 L1445.90 876.99 L1446.90 878.78 L1447.90 880.48 L1448.90 882.10 L1449.90 883.63 L1450.90 885.06 L1451.90 886.42 L1452.90 887.71 L1453.90 888.95 L1454.90 890.14 L1455.90 891.29 L1456.90 892.41 L1457.90 893.54 L1458.90 894.67 L1459.90 895.77 L1460.90 896.82 L1461.90 897.78 L1462.90 898.62 L1463.90 899.32 L1464.90 900.01 L1465.90 900.67 L1466.90 901.22 L1467.90 901.59 L1468.90 901.69 L1469.90 901.66 L1470.90 901.59 L1471.90 901.47 L1472.90 901.33 L1473.90 901.16 L1474.90 900.97 L1475.90 900.75 L1476.90 900.42 L1477.90 899.96 L1478.90 899.40 L1479.90 898.77 L1480.90 898.09 L1481.90 897.25 L1482.90 896.24 L1483.90 895.10 L1484.90 893.88 L1485.90 892.59 L1486.90 891.29 L1487.90 890.00 L1488.90 888.67 L1489.90 887.29 L1490.90 885.84 L1491.90 884.32 L1492.90 882.69 L1493.90 880.96 L1494.90 879.07 L1495.90 876.95 L1496.90 874.66 L1497.90 872.25 L1498.90 869.81 L1499.90 867.39 L1500.90 864.99 L1501.90 862.52 L1502.90 860.04 L1503.90 857.57 L1504.90 855.15 L1505.90 852.81 L1506.90 850.52 L1507.90 848.25 L1508.90 845.95 L1509.90 843.59 L1510.90 841.14 L1511.90 838.58 L1512.90 835.94 L1513.90 833.25 L1514.90 830.52 L1515.90 827.80 L1516.90 825.12 L1517.90 822.45 L1518.90 819.78 L1519.90 817.12 L1520.90 814.45 L1521.90 811.78 L1522.90 809.12 L1523.90 806.48 L1524.90 803.89 L1525.90 801.30 L1526.90 798.67 L1527.90 795.97 L1528.90 793.15 L1529.90 790.13 L1530.90 786.89 L1531.90 783.56 L1532.90 780.26 L1533.90 777.14 L1534.90 774.26 L1535.90 771.51 L1536.90 768.86 L1537.90 766.26 L1538.90 763.68 L1539.90 761.07 L1540.90 758.40 L1541.90 755.74 L1542.90 753.07 L1543.90 750.40 L1544.90 747.74 L1545.90 745.07 L1546.90 742.39 L1547.90 739.63 L1548.90 736.84 L1549.90 734.08 L1550.90 731.42 L1551.90 728.90 L1552.90 726.58 L1553.90 724.38 L1554.90 722.26 L1555.90 720.23 L1556.90 718.27 L1557.90 716.39 L1558.90 714.56 L1559.90 712.79 L1560.90 711.06 L1561.90 709.37 L1562.90 707.72 L1563.90 706.12 L1564.90 704.57 L1565.90 703.07 L1566.90 701.62 L1567.90 700.23 L1568.60 699.30" stroke="#ff0000" stroke-width="3.9" fill="none" stroke-linejoin="round" stroke-linecap="butt" stroke-dasharray="9.2 8.0"/>
<path d="M905.90 905.47 L906.90 907.25 L907.90 909.14 L908.90 911.14 L909.90 913.23 L910.90 915.41 L911.90 917.68 L912.90 920.09 L913.90 922.67 L914.90 925.39 L915.90 928.22 L916.90 931.13 L917.90 934.08 L918.90 937.05 L919.90 940.00 L920.90 942.92 L921.90 945.90 L922.90 948.94 L923.90 952.01 L924.90 955.09 L925.90 958.15 L926.90 961.17 L927.90 964.11 L928.90 966.95 L929.90 969.70 L930.90 972.37 L931.90 974.99 L932.90 977.56 L933.90 980.11 L934.90 982.65 L935.90 985.19 L936.90 987.76 L937.90 990.38 L938.90 993.12 L939.90 995.93 L940.90 998.77 L941.90 1001.56 L942.90 1004.25 L943.90 1006.78 L944.90 1009.09 L945.90 1011.12 L946.90 1012.93 L947.90 1014.61 L948.90 1016.18 L949.90 1017.64 L950.90 1019.01 L951.90 1020.30 L952.90 1021.52 L953.90 1022.83 L954.90 1024.16 L955.90 1025.40 L956.90 1026.39 L957.90 1026.99 L958.90 1027.12 L959.90 1027.12 L960.90 1027.12 L961.90 1027.12 L962.90 1027.12 L963.90 1027.12 L964.90 1027.09 L965.90 1026.84 L966.90 1026.37 L967.90 1025.76 L968.90 1025.06 L969.90 1024.33 L970.90 1023.43 L971.90 1022.31 L972.90 1021.02 L973.90 1019.58 L974.90 1018.02 L975.90 1016.38 L976.90 1014.68 L977.90 1012.97 L978.90 1011.20 L979.90 1009.28 L980.90 1007.23 L981.90 1005.06 L982.90 1002.79 L983.90 1000.45 L984.90 998.05 L985.90 995.61 L986.90 993.14 L987.90 990.56 L988.90 987.88 L989.90 985.11 L990.90 982.27 L991.90 979.38 L992.90 976.47 L993.90 973.54 L994.90 970.63 L995.90 967.71 L996.90 964.76 L997.90 961.77 L998.90 958.76 L999.90 955.73 L1000.90 952.70 L1001.90 949.66 L1002.90 946.64 L1003.90 943.63 L1004.90 940.60 L1005.90 937.53 L1006.90 934.46 L1007.90 931.40 L1008.90 928.37 L1009.90 925.39 L1010.90 922.47 L1011.90 919.63 L1012.90 916.81 L1013.90 913.93 L1014.90 911.06 L1015.90 908.24 L1016.90 905.52 L1017.90 902.95 L1018.90 900.58 L1019.90 898.45 L1020.90 896.60 L1021.90 894.86 L1022.90 893.21 L1023.90 891.66 L1024.90 890.21 L1025.90 888.88 L1026.90 887.66 L1027.90 886.56 L1028.90 885.59 L1029.90 884.67 L1030.90 883.74 L1031.90 882.86 L1032.90 882.09 L1033.90 881.49 L1034.90 881.11 L1035.90 881.02 L1036.90 881.11 L1037.90 881.31 L1038.90 881.60 L1039.90 881.96 L1040.90 882.37 L1041.90 882.80 L1042.90 883.26 L1043.90 883.83 L1044.90 884.53 L1045.90 885.34 L1046.90 886.26 L1047.90 887.25 L1048.90 888.33 L1049.90 889.46 L1050.90 890.64 L1051.90 891.94 L1052.90 893.43 L1053.90 895.09 L1054.90 896.89 L1055.90 898.80 L1056.90 900.79 L1057.90 902.83 L1058.90 904.89 L1059.90 906.96 L1060.90 909.11 L1061.90 911.35 L1062.90 913.68 L1063.90 916.08 L1064.90 918.55 L1065.90 921.08 L1066.90 923.68 L1067.90 926.32 L1068.90 929.08 L1069.90 931.97 L1070.90 934.98 L1071.90 938.06 L1072.90 941.17 L1073.90 944.29 L1074.90 947.36 L1075.90 950.36 L1076.90 953.26 L1077.90 956.12 L1078.90 958.94 L1079.90 961.73 L1080.90 964.51 L1081.90 967.28 L1082.90 970.05 L1083.90 972.83 L1084.90 975.62 L1085.90 978.45 L1086.90 981.31 L1087.90 984.19 L1088.90 987.06 L1089.90 989.91 L1090.90 992.72 L1091.90 995.45 L1092.90 998.11 L1093.90 1000.70 L1094.90 1003.40 L1095.90 1006.15 L1096.90 1008.87 L1097.90 1011.49 L1098.90 1013.93 L1099.90 1016.11 L1100.90 1017.96 L1101.90 1019.40 L1102.90 1020.60 L1103.90 1021.77 L1104.90 1022.90 L1105.90 1023.96 L1106.90 1024.93 L1107.90 1025.79 L1108.90 1026.53 L1109.90 1027.11 L1110.90 1027.53 L1111.90 1027.76 L1112.90 1027.79 L1113.90 1027.65 L1114.90 1027.38 L1115.90 1026.99 L1116.90 1026.51 L1117.90 1025.95 L1118.90 1025.33 L1119.90 1024.68 L1120.90 1024.00 L1121.90 1023.17 L1122.90 1022.10 L1123.90 1020.83 L1124.90 1019.45 L1125.90 1018.00 L1126.90 1016.54 L1127.90 1015.11 L1128.90 1013.65 L1129.90 1012.14 L1130.90 1010.55 L1131.90 1008.86 L1132.90 1007.05 L1133.90 1005.09 L1134.90 1002.95 L1135.90 1000.43 L1136.90 997.54 L1137.90 994.40 L1138.90 991.14 L1139.90 987.90 L1140.90 984.80 L1141.90 981.76 L1142.90 978.69 L1143.90 975.61 L1144.90 972.54 L1145.90 969.50 L1146.90 966.52 L1147.90 963.62 L1148.90 960.82 L1149.90 958.14 L1150.90 955.54 L1151.90 952.94 L1152.90 950.27 L1153.90 947.50 L1154.90 944.66 L1155.90 941.78 L1156.90 938.90 L1157.90 936.05 L1158.90 933.28 L1159.90 930.56 L1160.90 927.86 L1161.90 925.18 L1162.90 922.52 L1163.90 919.90 L1164.90 917.33 L1165.90 914.81 L1166.90 912.36 L1167.90 909.96 L1168.90 907.53 L1169.90 905.11 L1170.90 902.70 L1171.90 900.37 L1172.90 898.14 L1173.90 896.05 L1174.90 894.13 L1175.90 892.42 L1176.90 890.86 L1177.90 889.34 L1178.90 887.91 L1179.90 886.60 L1180.90 885.45 L1181.90 884.50 L1182.90 883.78 L1183.90 883.15 L1184.90 882.55 L1185.90 882.02 L1186.90 881.57 L1187.90 881.24 L1188.90 881.05 L1189.90 881.03 L1190.90 881.20 L1191.90 881.51 L1192.90 881.94 L1193.90 882.47 L1194.90 883.05 L1195.90 883.67 L1196.90 884.33 L1197.90 885.16 L1198.90 886.15 L1199.90 887.29 L1200.90 888.55 L1201.90 889.91 L1202.90 891.33 L1203.90 892.80 L1204.90 894.30 L1205.90 895.91 L1206.90 897.67 L1207.90 899.56 L1208.90 901.57 L1209.90 903.66 L1210.90 905.83 L1211.90 908.04 L1212.90 910.29 L1213.90 912.58 L1214.90 914.97 L1215.90 917.45 L1216.90 920.02 L1217.90 922.65 L1218.90 925.34 L1219.90 928.08 L1220.90 930.84 L1221.90 933.62 L1222.90 936.49 L1223.90 939.45 L1224.90 942.48 L1225.90 945.55 L1226.90 948.63 L1227.90 951.70 L1228.90 954.73 L1229.90 957.69 L1230.90 960.58 L1231.90 963.43 L1232.90 966.24 L1233.90 969.03 L1234.90 971.81 L1235.90 974.58 L1236.90 977.35 L1237.90 980.13 L1238.90 982.92 L1239.90 985.81 L1240.90 988.77 L1241.90 991.76 L1242.90 994.73 L1243.90 997.63 L1244.90 1000.41 L1245.90 1003.03 L1246.90 1005.44 L1247.90 1007.70 L1248.90 1010.01 L1249.90 1012.31 L1250.90 1014.58 L1251.90 1016.74 L1252.90 1018.76 L1253.90 1020.58 L1254.90 1022.14 L1255.90 1023.41 L1256.90 1024.33 L1257.90 1024.92 L1258.90 1025.45 L1259.90 1025.95 L1260.90 1026.40 L1261.90 1026.81 L1262.90 1027.17 L1263.90 1027.47 L1264.90 1027.70 L1265.90 1027.87 L1266.90 1027.95 L1267.90 1027.94 L1268.90 1027.71 L1269.90 1027.26 L1270.90 1026.62 L1271.90 1025.81 L1272.90 1024.88 L1273.90 1023.83 L1274.90 1022.71 L1275.90 1021.54 L1276.90 1020.35 L1277.90 1019.16 L1278.90 1017.79 L1279.90 1016.18 L1280.90 1014.38 L1281.90 1012.41 L1282.90 1010.31 L1283.90 1008.10 L1284.90 1005.83 L1285.90 1003.52 L1286.90 1001.21 L1287.90 998.92 L1288.90 996.58 L1289.90 994.15 L1290.90 991.63 L1291.90 989.03 L1292.90 986.38 L1293.90 983.67 L1294.90 980.92 L1295.90 978.15 L1296.90 975.35 L1297.90 972.48 L1298.90 969.55 L1299.90 966.56 L1300.90 963.53 L1301.90 960.47 L1302.90 957.39 L1303.90 954.31 L1304.90 951.22 L1305.90 948.05 L1306.90 944.80 L1307.90 941.56 L1308.90 938.40 L1309.90 935.39 L1310.90 932.57 L1311.90 929.89 L1312.90 927.28 L1313.90 924.71 L1314.90 922.12 L1315.90 919.46 L1316.90 916.72 L1317.90 913.96 L1318.90 911.27 L1319.90 908.73 L1320.90 906.34 L1321.90 904.03 L1322.90 901.81 L1323.90 899.69 L1324.90 897.70 L1325.90 895.86 L1326.90 894.10 L1327.90 892.40 L1328.90 890.79 L1329.90 889.30 L1330.90 887.96 L1331.90 886.78 L1332.90 885.67 L1333.90 884.62 L1334.90 883.68 L1335.90 882.89 L1336.90 882.29 L1337.90 881.85 L1338.90 881.45 L1339.90 881.12 L1340.90 880.89 L1341.90 880.80 L1342.90 880.88 L1343.90 881.11 L1344.90 881.44 L1345.90 881.86 L1346.90 882.31 L1347.90 882.82 L1348.90 883.52 L1349.90 884.40 L1350.90 885.41 L1351.90 886.52 L1352.90 887.70 L1353.90 888.93 L1354.90 890.35 L1355.90 891.93 L1356.90 893.65 L1357.90 895.45 L1358.90 897.29 L1359.90 899.23 L1360.90 901.30 L1361.90 903.46 L1362.90 905.69 L1363.90 907.93 L1364.90 910.17 L1365.90 912.44 L1366.90 914.76 L1367.90 917.12 L1368.90 919.53 L1369.90 922.00 L1370.90 924.53 L1371.90 927.12 L1372.90 929.76 L1373.90 932.47 L1374.90 935.24 L1375.90 938.10 L1376.90 941.09 L1377.90 944.11 L1378.90 947.08 L1379.90 950.04 L1380.90 953.00 L1381.90 955.95 L1382.90 958.89 L1383.90 961.81 L1384.90 964.71 L1385.90 967.59 L1386.90 970.45 L1387.90 973.30 L1388.90 976.13 L1389.90 978.95 L1390.90 981.75 L1391.90 984.53 L1392.90 987.28 L1393.90 990.00 L1394.90 992.72 L1395.90 995.53 L1396.90 998.37 L1397.90 1001.20 L1398.90 1003.95 L1399.90 1006.58 L1400.90 1009.03 L1401.90 1011.26 L1402.90 1013.22 L1403.90 1015.02 L1404.90 1016.72 L1405.90 1018.30 L1406.90 1019.76 L1407.90 1021.10 L1408.90 1022.31 L1409.90 1023.43 L1410.90 1024.59 L1411.90 1025.73 L1412.90 1026.73 L1413.90 1027.50 L1414.90 1027.92 L1415.90 1027.95 L1416.90 1027.88 L1417.90 1027.73 L1418.90 1027.53 L1419.90 1027.28 L1420.90 1026.98 L1421.90 1026.65 L1422.90 1026.30 L1423.90 1025.79 L1424.90 1025.00 L1425.90 1023.96 L1426.90 1022.71 L1427.90 1021.30 L1428.90 1019.75 L1429.90 1018.12 L1430.90 1016.44 L1431.90 1014.75 L1432.90 1013.09 L1433.90 1011.45 L1434.90 1009.71 L1435.90 1007.88 L1436.90 1005.95 L1437.90 1003.93 L1438.90 1001.83 L1439.90 999.65 L1440.90 997.40 L1441.90 995.08 L1442.90 992.60 L1443.90 989.96 L1444.90 987.20 L1445.90 984.34 L1446.90 981.42 L1447.90 978.46 L1448.90 975.50 L1449.90 972.57 L1450.90 969.66 L1451.90 966.70 L1452.90 963.72 L1453.90 960.71 L1454.90 957.68 L1455.90 954.65 L1456.90 951.62 L1457.90 948.59 L1458.90 945.58 L1459.90 942.53 L1460.90 939.43 L1461.90 936.32 L1462.90 933.23 L1463.90 930.17 L1464.90 927.19 L1465.90 924.30 L1466.90 921.54 L1467.90 918.88 L1468.90 916.23 L1469.90 913.63 L1470.90 911.08 L1471.90 908.63 L1472.90 906.28 L1473.90 904.07 L1474.90 902.01 L1475.90 900.12 L1476.90 898.25 L1477.90 896.40 L1478.90 894.59 L1479.90 892.85 L1480.90 891.21 L1481.90 889.70 L1482.90 888.34 L1483.90 887.16 L1484.90 886.19 L1485.90 885.45 L1486.90 884.79 L1487.90 884.15 L1488.90 883.56 L1489.90 883.01 L1490.90 882.52 L1491.90 882.10 L1492.90 881.77 L1493.90 881.54 L1494.90 881.42 L1495.90 881.43 L1496.90 881.69 L1497.90 882.17 L1498.90 882.84 L1499.90 883.67 L1500.90 884.64 L1501.90 885.70 L1502.90 886.84 L1503.90 888.01 L1504.90 889.19 L1505.90 890.35 L1506.90 891.49 L1507.90 892.72 L1508.90 894.06 L1509.90 895.49 L1510.90 897.02 L1511.90 898.63 L1512.90 900.32 L1513.90 902.09 L1514.90 903.94 L1515.90 905.98 L1516.90 908.19 L1517.90 910.53 L1518.90 912.97 L1519.90 915.47 L1520.90 917.99 L1521.90 920.51 L1522.90 922.99 L1523.90 925.45 L1524.90 927.94 L1525.90 930.47 L1526.90 933.05 L1527.90 935.71 L1528.90 938.47 L1529.90 941.35 L1530.90 944.42 L1531.90 947.62 L1532.90 950.90 L1533.90 954.20 L1534.90 957.48 L1535.90 960.68 L1536.90 963.78 L1537.90 966.87 L1538.90 969.94 L1539.90 972.98 L1540.90 975.99 L1541.90 978.96 L1542.90 981.89 L1543.90 984.83 L1544.90 987.79 L1545.90 990.72 L1546.90 993.58 L1547.90 996.32 L1548.90 998.91 L1549.90 1001.30 L1550.90 1003.58 L1551.90 1005.78 L1552.90 1007.90 L1553.90 1009.93 L1554.90 1011.87 L1555.90 1013.71 L1556.90 1015.44 L1557.90 1017.06 L1558.90 1018.61 L1559.90 1020.06 L1560.90 1021.35 L1561.90 1022.39 L1562.90 1023.31 L1563.90 1024.19 L1564.90 1025.01 L1565.90 1025.76 L1566.90 1026.43 L1567.90 1026.98 L1568.60 1027.30" stroke="#00aa00" stroke-width="4.5" fill="none" stroke-linejoin="round" stroke-linecap="butt"/>
<path d="M100.20 1029.00 L100.60 1029.00 L101.01 1028.99 L101.41 1028.96 L101.82 1028.90 L102.22 1028.81 L102.62 1028.68 L103.03 1028.49 L103.43 1028.23 L103.83 1027.91 L104.24 1027.51 L104.64 1027.01 L105.05 1026.43 L105.45 1025.73 L105.85 1024.93 L106.26 1024.01 L106.66 1022.97 L107.07 1021.79 L107.47 1020.47 L107.87 1019.01 L108.28 1017.40 L108.68 1015.64 L109.09 1013.72 L109.49 1011.64 L109.89 1009.39 L110.30 1006.97 L110.70 1004.38 L111.10 1001.62 L111.51 998.68 L111.91 995.56 L112.32 992.27 L112.72 988.79 L113.12 985.14 L113.53 981.31 L113.93 977.31 L114.34 973.13 L114.74 968.78 L115.14 964.25 L115.55 959.57 L115.95 954.72 L116.36 949.71 L116.76 944.54 L117.16 939.23 L117.57 933.77 L117.97 928.17 L118.37 922.44 L118.78 916.58 L119.18 910.61 L119.59 904.52 L119.99 898.32 L120.39 892.03 L120.80 885.65 L121.20 879.20 L121.61 871.54 L122.01 863.45 L122.41 855.31 L122.82 847.17 L123.22 838.19 L123.62 827.22 L124.03 816.33 L124.43 805.84 L124.84 797.81 L125.24 789.92 L125.64 782.17 L126.05 774.59 L126.45 767.17 L126.86 759.29 L127.26 751.65 L127.66 744.29 L128.07 737.21 L128.47 730.89 L128.88 725.19 L129.28 719.72 L129.68 714.47 L130.09 709.46 L130.49 704.68 L130.89 700.21 L131.30 696.21 L131.70 692.40 L132.11 688.79 L132.51 685.36 L132.91 682.13 L133.32 679.08 L133.72 676.23 L134.13 673.56 L134.53 671.08 L134.93 668.79 L135.34 666.67 L135.74 664.82 L136.14 663.14 L136.55 661.61 L136.95 660.22 L137.36 658.97 L137.76 657.87 L138.16 656.91 L138.57 656.10 L138.97 655.44 L139.38 654.92 L139.78 654.55 L140.18 654.33 L140.59 654.26 L140.99 654.33 L141.40 654.55 L141.80 654.92 L142.20 655.44 L142.61 656.10 L143.01 656.91 L143.41 657.87 L143.82 658.97 L144.22 660.22 L144.63 661.61 L145.03 663.14 L145.43 664.82 L145.84 666.67 L146.24 668.79 L146.65 671.08 L147.05 673.56 L147.45 676.23 L147.86 679.08 L148.26 682.13 L148.66 685.36 L149.07 688.79 L149.47 692.40 L149.88 696.21 L150.28 700.21 L150.68 704.68 L151.09 709.46 L151.49 714.47 L151.90 719.72 L152.30 725.19 L152.70 730.89 L153.11 737.21 L153.51 744.29 L153.92 751.65 L154.32 759.29 L154.72 767.17 L155.13 774.59 L155.53 782.17 L155.93 789.92 L156.34 797.81 L156.74 805.84 L157.15 816.33 L157.55 827.22 L157.95 838.19 L158.36 847.17 L158.76 855.31 L159.17 863.45 L159.57 871.54 L159.97 879.20 L160.38 885.65 L160.78 892.03 L161.19 898.32 L161.59 904.52 L161.99 910.61 L162.40 916.58 L162.80 922.44 L163.20 928.17 L163.61 933.77 L164.01 939.23 L164.42 944.54 L164.82 949.71 L165.22 954.72 L165.63 959.57 L166.03 964.25 L166.44 968.78 L166.84 973.13 L167.24 977.31 L167.65 981.31 L168.05 985.14 L168.45 988.79 L168.86 992.27 L169.26 995.56 L169.67 998.68 L170.07 1001.62 L170.47 1004.38 L170.88 1006.97 L171.28 1009.39 L171.69 1011.64 L172.09 1013.72 L172.49 1015.64 L172.90 1017.40 L173.30 1019.01 L173.71 1020.47 L174.11 1021.79 L174.51 1022.97 L174.92 1024.01 L175.32 1024.93 L175.72 1025.73 L176.13 1026.43 L176.53 1027.01 L176.94 1027.51 L177.34 1027.91 L177.74 1028.23 L178.15 1028.49 L178.55 1028.68 L178.96 1028.81 L179.36 1028.90 L179.76 1028.96 L180.17 1028.99 L180.57 1029.00 L180.98 1029.00 L181.38 1029.00 L181.78 1028.99 L182.19 1028.96 L182.59 1028.90 L182.99 1028.81 L183.40 1028.68 L183.80 1028.49 L184.21 1028.23 L184.61 1027.91 L185.01 1027.51 L185.42 1027.01 L185.82 1026.43 L186.23 1025.73 L186.63 1024.93 L187.03 1024.01 L187.44 1022.97 L187.84 1021.79 L188.24 1020.47 L188.65 1019.01 L189.05 1017.40 L189.46 1015.64 L189.86 1013.72 L190.26 1011.64 L190.67 1009.39 L191.07 1006.97 L191.48 1004.38 L191.88 1001.62 L192.28 998.68 L192.69 995.56 L193.09 992.27 L193.50 988.79 L193.90 985.14 L194.30 981.31 L194.71 977.31 L195.11 973.13 L195.51 968.78 L195.92 964.25 L196.32 959.57 L196.73 954.72 L197.13 949.71 L197.53 944.54 L197.94 939.23 L198.34 933.77 L198.75 928.17 L199.15 922.44 L199.55 916.58 L199.96 910.61 L200.36 904.52 L200.76 898.32 L201.17 892.03 L201.57 885.65 L201.98 879.20 L202.38 871.54 L202.78 863.45 L203.19 855.31 L203.59 847.17 L204.00 838.19 L204.40 827.22 L204.80 816.33 L205.21 805.84 L205.61 797.81 L206.02 789.92 L206.42 782.17 L206.82 774.59 L207.23 767.17 L207.63 759.29 L208.03 751.65 L208.44 744.29 L208.84 737.21 L209.25 730.89 L209.65 725.19 L210.05 719.72 L210.46 714.47 L210.86 709.46 L211.27 704.68 L211.67 700.21 L212.07 696.21 L212.48 692.40 L212.88 688.79 L213.28 685.36 L213.69 682.13 L214.09 679.08 L214.50 676.23 L214.90 673.56 L215.30 671.08 L215.71 668.79 L216.11 666.67 L216.52 664.82 L216.92 663.14 L217.32 661.61 L217.73 660.22 L218.13 658.97 L218.54 657.87 L218.94 656.91 L219.34 656.10 L219.75 655.44 L220.15 654.92 L220.55 654.55 L220.96 654.33 L221.36 654.26 L221.77 654.33 L222.17 654.55 L222.57 654.92 L222.98 655.44 L223.38 656.10 L223.79 656.91 L224.19 657.87 L224.59 658.97 L225.00 660.22 L225.40 661.61 L225.81 663.14 L226.21 664.82 L226.61 666.67 L227.02 668.79 L227.42 671.08 L227.82 673.56 L228.23 676.23 L228.63 679.08 L229.04 682.13 L229.44 685.36 L229.84 688.79 L230.25 692.40 L230.65 696.21 L231.06 700.21 L231.46 704.68 L231.86 709.46 L232.27 714.47 L232.67 719.72 L233.07 725.19 L233.48 730.89 L233.88 737.21 L234.29 744.29 L234.69 751.65 L235.09 759.29 L235.50 767.17 L235.90 774.59 L236.31 782.17 L236.71 789.92 L237.11 797.81 L237.52 805.84 L237.92 816.33 L238.33 827.22 L238.73 838.19 L239.13 847.17 L239.54 855.31 L239.94 863.45 L240.34 871.54 L240.75 879.20 L241.15 885.65 L241.56 892.03 L241.96 898.32 L242.36 904.52 L242.77 910.61 L243.17 916.58 L243.58 922.44 L243.98 928.17 L244.38 933.77 L244.79 939.23 L245.19 944.54 L245.60 949.71 L246.00 954.72 L246.40 959.57 L246.81 964.25 L247.21 968.78 L247.61 973.13 L248.02 977.31 L248.42 981.31 L248.83 985.14 L249.23 988.79 L249.63 992.27 L250.04 995.56 L250.44 998.68 L250.85 1001.62 L251.25 1004.38 L251.65 1006.97 L252.06 1009.39 L252.46 1011.64 L252.86 1013.72 L253.27 1015.64 L253.67 1017.40 L254.08 1019.01 L254.48 1020.47 L254.88 1021.79 L255.29 1022.97 L255.69 1024.01 L256.10 1024.93 L256.50 1025.73 L256.90 1026.43 L257.31 1027.01 L257.71 1027.51 L258.12 1027.91 L258.52 1028.23 L258.92 1028.49 L259.33 1028.68 L259.73 1028.81 L260.13 1028.90 L260.54 1028.96 L260.94 1028.99 L261.35 1029.00 L261.75 1029.00 L262.15 1029.00 L262.56 1028.99 L262.96 1028.96 L263.37 1028.90 L263.77 1028.81 L264.17 1028.68 L264.58 1028.49 L264.98 1028.23 L265.38 1027.91 L265.79 1027.51 L266.19 1027.01 L266.60 1026.43 L267.00 1025.73 L267.40 1024.93 L267.81 1024.01 L268.21 1022.97 L268.62 1021.79 L269.02 1020.47 L269.42 1019.01 L269.83 1017.40 L270.23 1015.64 L270.64 1013.72 L271.04 1011.64 L271.44 1009.39 L271.85 1006.97 L272.25 1004.38 L272.65 1001.62 L273.06 998.68 L273.46 995.56 L273.87 992.27 L274.27 988.79 L274.67 985.14 L275.08 981.31 L275.48 977.31 L275.89 973.13 L276.29 968.78 L276.69 964.25 L277.10 959.57 L277.50 954.72 L277.91 949.71 L278.31 944.54 L278.71 939.23 L279.12 933.77 L279.52 928.17 L279.92 922.44 L280.33 916.58 L280.73 910.61 L281.14 904.52 L281.54 898.32 L281.94 892.03 L282.35 885.65 L282.75 879.20 L283.16 871.54 L283.56 863.45 L283.96 855.31 L284.37 847.17 L284.77 838.19 L285.17 827.22 L285.58 816.33 L285.98 805.84 L286.39 797.81 L286.79 789.92 L287.19 782.17 L287.60 774.59 L288.00 767.17 L288.41 759.29 L288.81 751.65 L289.21 744.29 L289.62 737.21 L290.02 730.89 L290.43 725.19 L290.83 719.72 L291.23 714.47 L291.64 709.46 L292.04 704.68 L292.44 700.21 L292.85 696.21 L293.25 692.40 L293.66 688.79 L294.06 685.36 L294.46 682.13 L294.87 679.08 L295.27 676.23 L295.68 673.56 L296.08 671.08 L296.48 668.79 L296.89 666.67 L297.29 664.82 L297.69 663.14 L298.10 661.61 L298.50 660.22 L298.91 658.97 L299.31 657.87 L299.71 656.91 L300.12 656.10 L300.52 655.44 L300.93 654.92 L301.33 654.55 L301.73 654.33 L302.14 654.26 L302.54 654.33 L302.95 654.55 L303.35 654.92 L303.75 655.44 L304.16 656.10 L304.56 656.91 L304.96 657.87 L305.37 658.97 L305.77 660.22 L306.18 661.61 L306.58 663.14 L306.98 664.82 L307.39 666.67 L307.79 668.79 L308.20 671.08 L308.60 673.56 L309.00 676.23 L309.41 679.08 L309.81 682.13 L310.21 685.36 L310.62 688.79 L311.02 692.40 L311.43 696.21 L311.83 700.21 L312.23 704.68 L312.64 709.46 L313.04 714.47 L313.45 719.72 L313.85 725.19 L314.25 730.89 L314.66 737.21 L315.06 744.29 L315.47 751.65 L315.87 759.29 L316.27 767.17 L316.68 774.59 L317.08 782.17 L317.48 789.92 L317.89 797.81 L318.29 805.84 L318.70 816.33 L319.10 827.22 L319.50 838.19 L319.91 847.17 L320.31 855.31 L320.72 863.45 L321.12 871.54 L321.52 879.20 L321.93 885.65 L322.33 892.03 L322.74 898.32 L323.14 904.52 L323.54 910.61 L323.95 916.58 L324.35 922.44 L324.75 928.17 L325.16 933.77 L325.56 939.23 L325.97 944.54 L326.37 949.71 L326.77 954.72 L327.18 959.57 L327.58 964.25 L327.99 968.78 L328.39 973.13 L328.79 977.31 L329.20 981.31 L329.60 985.14 L330.00 988.79 L330.41 992.27 L330.81 995.56 L331.22 998.68 L331.62 1001.62 L332.02 1004.38 L332.43 1006.97 L332.83 1009.39 L333.24 1011.64 L333.64 1013.72 L334.04 1015.64 L334.45 1017.40 L334.85 1019.01 L335.26 1020.47 L335.66 1021.79 L336.06 1022.97 L336.47 1024.01 L336.87 1024.93 L337.27 1025.73 L337.68 1026.43 L338.08 1027.01 L338.49 1027.51 L338.89 1027.91 L339.29 1028.23 L339.70 1028.49 L340.10 1028.68 L340.51 1028.81 L340.91 1028.90 L341.31 1028.96 L341.72 1028.99 L342.12 1029.00 L342.52 1029.00 L342.93 1029.00 L343.33 1028.99 L343.74 1028.96 L344.14 1028.90 L344.54 1028.81 L344.95 1028.68 L345.35 1028.49 L345.76 1028.23 L346.16 1027.91 L346.56 1027.51 L346.97 1027.01 L347.37 1026.43 L347.78 1025.73 L348.18 1024.93 L348.58 1024.01 L348.99 1022.97 L349.39 1021.79 L349.79 1020.47 L350.20 1019.01 L350.60 1017.40 L351.01 1015.64 L351.41 1013.72 L351.81 1011.64 L352.22 1009.39 L352.62 1006.97 L353.03 1004.38 L353.43 1001.62 L353.83 998.68 L354.24 995.56 L354.64 992.27 L355.05 988.79 L355.45 985.14 L355.85 981.31 L356.26 977.31 L356.66 973.13 L357.06 968.78 L357.47 964.25 L357.87 959.57 L358.28 954.72 L358.68 949.71 L359.08 944.54 L359.49 939.23 L359.89 933.77 L360.30 928.17 L360.70 922.44 L361.10 916.58 L361.51 910.61 L361.91 904.52 L362.31 898.32 L362.72 892.03 L363.12 885.65 L363.53 879.20 L363.93 871.54 L364.33 863.45 L364.74 855.31 L365.14 847.17 L365.55 838.19 L365.95 827.22 L366.35 816.33 L366.76 805.84 L367.16 797.81 L367.57 789.92 L367.97 782.17 L368.37 774.59 L368.78 767.17 L369.18 759.29 L369.58 751.65 L369.99 744.29 L370.39 737.21 L370.80 730.89 L371.20 725.19 L371.60 719.72 L372.01 714.47 L372.41 709.46 L372.82 704.68 L373.22 700.21 L373.62 696.21 L374.03 692.40 L374.43 688.79 L374.83 685.36 L375.24 682.13 L375.64 679.08 L376.05 676.23 L376.45 673.56 L376.85 671.08 L377.26 668.79 L377.66 666.67 L378.07 664.82 L378.47 663.14 L378.87 661.61 L379.28 660.22 L379.68 658.97 L380.09 657.87 L380.49 656.91 L380.89 656.10 L381.30 655.44 L381.70 654.92 L382.10 654.55 L382.51 654.33 L382.91 654.26 L383.32 654.33 L383.72 654.55 L384.12 654.92 L384.53 655.44 L384.93 656.10 L385.34 656.91 L385.74 657.87 L386.14 658.97 L386.55 660.22 L386.95 661.61 L387.36 663.14 L387.76 664.82 L388.16 666.67 L388.57 668.79 L388.97 671.08 L389.37 673.56 L389.78 676.23 L390.18 679.08 L390.59 682.13 L390.99 685.36 L391.39 688.79 L391.80 692.40 L392.20 696.21 L392.61 700.21 L393.01 704.68 L393.41 709.46 L393.82 714.47 L394.22 719.72 L394.62 725.19 L395.03 730.89 L395.43 737.21 L395.84 744.29 L396.24 751.65 L396.64 759.29 L397.05 767.17 L397.45 774.59 L397.86 782.17 L398.26 789.92 L398.66 797.81 L399.07 805.84 L399.47 816.33 L399.88 827.22 L400.28 838.19 L400.68 847.17 L401.09 855.31 L401.49 863.45 L401.89 871.54 L402.30 879.20 L402.70 885.65 L403.11 892.03 L403.51 898.32 L403.91 904.52 L404.32 910.61 L404.72 916.58 L405.13 922.44 L405.53 928.17 L405.93 933.77 L406.34 939.23 L406.74 944.54 L407.14 949.71 L407.55 954.72 L407.95 959.57 L408.36 964.25 L408.76 968.78 L409.16 973.13 L409.57 977.31 L409.97 981.31 L410.38 985.14 L410.78 988.79 L411.18 992.27 L411.59 995.56 L411.99 998.68 L412.40 1001.62 L412.80 1004.38 L413.20 1006.97 L413.61 1009.39 L414.01 1011.64 L414.41 1013.72 L414.82 1015.64 L415.22 1017.40 L415.63 1019.01 L416.03 1020.47 L416.43 1021.79 L416.84 1022.97 L417.24 1024.01 L417.65 1024.93 L418.05 1025.73 L418.45 1026.43 L418.86 1027.01 L419.26 1027.51 L419.67 1027.91 L420.07 1028.23 L420.47 1028.49 L420.88 1028.68 L421.28 1028.81 L421.68 1028.90 L422.09 1028.96 L422.49 1028.99 L422.90 1029.00 L423.30 1029.00 L423.70 1029.00 L424.11 1028.99 L424.51 1028.96 L424.92 1028.90 L425.32 1028.81 L425.72 1028.68 L426.13 1028.49 L426.53 1028.23 L426.93 1027.91 L427.34 1027.51 L427.74 1027.01 L428.15 1026.43 L428.55 1025.73 L428.95 1024.93 L429.36 1024.01 L429.76 1022.97 L430.17 1021.79 L430.57 1020.47 L430.97 1019.01 L431.38 1017.40 L431.78 1015.64 L432.19 1013.72 L432.59 1011.64 L432.99 1009.39 L433.40 1006.97 L433.80 1004.38 L434.20 1001.62 L434.61 998.68 L435.01 995.56 L435.42 992.27 L435.82 988.79 L436.22 985.14 L436.63 981.31 L437.03 977.31 L437.44 973.13 L437.84 968.78 L438.24 964.25 L438.65 959.57 L439.05 954.72 L439.45 949.71 L439.86 944.54 L440.26 939.23 L440.67 933.77 L441.07 928.17 L441.47 922.44 L441.88 916.58 L442.28 910.61 L442.69 904.52 L443.09 898.32 L443.49 892.03 L443.90 885.65 L444.30 879.20 L444.71 871.54 L445.11 863.45 L445.51 855.31 L445.92 847.17 L446.32 838.19 L446.72 827.22 L447.13 816.33 L447.53 805.84 L447.94 797.81 L448.34 789.92 L448.74 782.17 L449.15 774.59 L449.55 767.17 L449.96 759.29 L450.36 751.65 L450.76 744.29 L451.17 737.21 L451.57 730.89 L451.98 725.19 L452.38 719.72 L452.78 714.47 L453.19 709.46 L453.59 704.68 L453.99 700.21 L454.40 696.21 L454.80 692.40 L455.21 688.79 L455.61 685.36 L456.01 682.13 L456.42 679.08 L456.82 676.23 L457.23 673.56 L457.63 671.08 L458.03 668.79 L458.44 666.67 L458.84 664.82 L459.24 663.14 L459.65 661.61 L460.05 660.22 L460.46 658.97 L460.86 657.87 L461.26 656.91 L461.67 656.10 L462.07 655.44 L462.48 654.92 L462.88 654.55 L463.28 654.33 L463.69 654.26 L464.09 654.33 L464.50 654.55 L464.90 654.92 L465.30 655.44 L465.71 656.10 L466.11 656.91 L466.51 657.87 L466.92 658.97 L467.32 660.22 L467.73 661.61 L468.13 663.14 L468.53 664.82 L468.94 666.67 L469.34 668.79 L469.75 671.08 L470.15 673.56 L470.55 676.23 L470.96 679.08 L471.36 682.13 L471.76 685.36 L472.17 688.79 L472.57 692.40 L472.98 696.21 L473.38 700.21 L473.78 704.68 L474.19 709.46 L474.59 714.47 L475.00 719.72 L475.40 725.19 L475.80 730.89 L476.21 737.21 L476.61 744.29 L477.02 751.65 L477.42 759.29 L477.82 767.17 L478.23 774.59 L478.63 782.17 L479.03 789.92 L479.44 797.81 L479.84 805.84 L480.25 816.33 L480.65 827.22 L481.05 838.19 L481.46 847.17 L481.86 855.31 L482.27 863.45 L482.67 871.54 L483.07 879.20 L483.48 885.65 L483.88 892.03 L484.29 898.32 L484.69 904.52 L485.09 910.61 L485.50 916.58 L485.90 922.44 L486.30 928.17 L486.71 933.77 L487.11 939.23 L487.52 944.54 L487.92 949.71 L488.32 954.72 L488.73 959.57 L489.13 964.25 L489.54 968.78 L489.94 973.13 L490.34 977.31 L490.75 981.31 L491.15 985.14 L491.55 988.79 L491.96 992.27 L492.36 995.56 L492.77 998.68 L493.17 1001.62 L493.57 1004.38 L493.98 1006.97 L494.38 1009.39 L494.79 1011.64 L495.19 1013.72 L495.59 1015.64 L496.00 1017.40 L496.40 1019.01 L496.81 1020.47 L497.21 1021.79 L497.61 1022.97 L498.02 1024.01 L498.42 1024.93 L498.82 1025.73 L499.23 1026.43 L499.63 1027.01 L500.04 1027.51 L500.44 1027.91 L500.84 1028.23 L501.25 1028.49 L501.65 1028.68 L502.06 1028.81 L502.46 1028.90 L502.86 1028.96 L503.27 1028.99 L503.67 1029.00 L504.07 1029.00 L504.48 1029.00 L504.88 1028.99 L505.29 1028.96 L505.69 1028.90 L506.09 1028.81 L506.50 1028.68 L506.90 1028.49 L507.31 1028.23 L507.71 1027.91 L508.11 1027.51 L508.52 1027.01 L508.92 1026.43 L509.33 1025.73 L509.73 1024.93 L510.13 1024.01 L510.54 1022.97 L510.94 1021.79 L511.34 1020.47 L511.75 1019.01 L512.15 1017.40 L512.56 1015.64 L512.96 1013.72 L513.36 1011.64 L513.77 1009.39 L514.17 1006.97 L514.58 1004.38 L514.98 1001.62 L515.38 998.68 L515.79 995.56 L516.19 992.27 L516.60 988.79 L517.00 985.14 L517.40 981.31 L517.81 977.31 L518.21 973.13 L518.61 968.78 L519.02 964.25 L519.42 959.57 L519.83 954.72 L520.23 949.71 L520.63 944.54 L521.04 939.23 L521.44 933.77 L521.85 928.17 L522.25 922.44 L522.65 916.58 L523.06 910.61 L523.46 904.52 L523.86 898.32 L524.27 892.03 L524.67 885.65 L525.08 879.20 L525.48 871.54 L525.88 863.45 L526.29 855.31 L526.69 847.17 L527.10 838.19 L527.50 827.22 L527.90 816.33 L528.31 805.84 L528.71 797.81 L529.12 789.92 L529.52 782.17 L529.92 774.59 L530.33 767.17 L530.73 759.29 L531.13 751.65 L531.54 744.29 L531.94 737.21 L532.35 730.89 L532.75 725.19 L533.15 719.72 L533.56 714.47 L533.96 709.46 L534.37 704.68 L534.77 700.21 L535.17 696.21 L535.58 692.40 L535.98 688.79 L536.38 685.36 L536.79 682.13 L537.19 679.08 L537.60 676.23 L538.00 673.56 L538.40 671.08 L538.81 668.79 L539.21 666.67 L539.62 664.82 L540.02 663.14 L540.42 661.61 L540.83 660.22 L541.23 658.97 L541.64 657.87 L542.04 656.91 L542.44 656.10 L542.85 655.44 L543.25 654.92 L543.65 654.55 L544.06 654.33 L544.46 654.26 L544.87 654.33 L545.27 654.55 L545.67 654.92 L546.08 655.44 L546.48 656.10 L546.89 656.91 L547.29 657.87 L547.69 658.97 L548.10 660.22 L548.50 661.61 L548.91 663.14 L549.31 664.82 L549.71 666.67 L550.12 668.79 L550.52 671.08 L550.92 673.56 L551.33 676.23 L551.73 679.08 L552.14 682.13 L552.54 685.36 L552.94 688.79 L553.35 692.40 L553.75 696.21 L554.16 700.21 L554.56 704.68 L554.96 709.46 L555.37 714.47 L555.77 719.72 L556.17 725.19 L556.58 730.89 L556.98 737.21 L557.39 744.29 L557.79 751.65 L558.19 759.29 L558.60 767.17 L559.00 774.59 L559.41 782.17 L559.81 789.92 L560.21 797.81 L560.62 805.84 L561.02 816.33 L561.43 827.22 L561.83 838.19 L562.23 847.17 L562.64 855.31 L563.04 863.45 L563.44 871.54 L563.85 879.20 L564.25 885.65 L564.66 892.03 L565.06 898.32 L565.46 904.52 L565.87 910.61 L566.27 916.58 L566.68 922.44 L567.08 928.17 L567.48 933.77 L567.89 939.23 L568.29 944.54 L568.70 949.71 L569.10 954.72 L569.50 959.57 L569.91 964.25 L570.31 968.78 L570.71 973.13 L571.12 977.31 L571.52 981.31 L571.93 985.14 L572.33 988.79 L572.73 992.27 L573.14 995.56 L573.54 998.68 L573.95 1001.62 L574.35 1004.38 L574.75 1006.97 L575.16 1009.39 L575.56 1011.64 L575.96 1013.72 L576.37 1015.64 L576.77 1017.40 L577.18 1019.01 L577.58 1020.47 L577.98 1021.79 L578.39 1022.97 L578.79 1024.01 L579.20 1024.93 L579.60 1025.73 L580.00 1026.43 L580.41 1027.01 L580.81 1027.51 L581.22 1027.91 L581.62 1028.23 L582.02 1028.49 L582.43 1028.68 L582.83 1028.81 L583.23 1028.90 L583.64 1028.96 L584.04 1028.99 L584.45 1029.00 L584.85 1029.00 L585.25 1029.00 L585.66 1028.99 L586.06 1028.96 L586.47 1028.90 L586.87 1028.81 L587.27 1028.68 L587.68 1028.49 L588.08 1028.23 L588.48 1027.91 L588.89 1027.51 L589.29 1027.01 L589.70 1026.43 L590.10 1025.73 L590.50 1024.93 L590.91 1024.01 L591.31 1022.97 L591.72 1021.79 L592.12 1020.47 L592.52 1019.01 L592.93 1017.40 L593.33 1015.64 L593.74 1013.72 L594.14 1011.64 L594.54 1009.39 L594.95 1006.97 L595.35 1004.38 L595.75 1001.62 L596.16 998.68 L596.56 995.56 L596.97 992.27 L597.37 988.79 L597.77 985.14 L598.18 981.31 L598.58 977.31 L598.99 973.13 L599.39 968.78 L599.79 964.25 L600.20 959.57 L600.60 954.72 L601.00 949.71 L601.41 944.54 L601.81 939.23 L602.22 933.77 L602.62 928.17 L603.02 922.44 L603.43 916.58 L603.83 910.61 L604.24 904.52 L604.64 898.32 L605.04 892.03 L605.45 885.65 L605.85 879.20 L606.26 871.54 L606.66 863.45 L607.06 855.31 L607.47 847.17 L607.87 838.19 L608.27 827.22 L608.68 816.33 L609.08 805.84 L609.49 797.81 L609.89 789.92 L610.29 782.17 L610.70 774.59 L611.10 767.17 L611.51 759.29 L611.91 751.65 L612.31 744.29 L612.72 737.21 L613.12 730.89 L613.53 725.19 L613.93 719.72 L614.33 714.47 L614.74 709.46 L615.14 704.68 L615.54 700.21 L615.95 696.21 L616.35 692.40 L616.76 688.79 L617.16 685.36 L617.56 682.13 L617.97 679.08 L618.37 676.23 L618.78 673.56 L619.18 671.08 L619.58 668.79 L619.99 666.67 L620.39 664.82 L620.79 663.14 L621.20 661.61 L621.60 660.22 L622.01 658.97 L622.41 657.87 L622.81 656.91 L623.22 656.10 L623.62 655.44 L624.03 654.92 L624.43 654.55 L624.83 654.33 L625.24 654.26 L625.64 654.33 L626.05 654.55 L626.45 654.92 L626.85 655.44 L627.26 656.10 L627.66 656.91 L628.06 657.87 L628.47 658.97 L628.87 660.22 L629.28 661.61 L629.68 663.14 L630.08 664.82 L630.49 666.67 L630.89 668.79 L631.30 671.08 L631.70 673.56 L632.10 676.23 L632.51 679.08 L632.91 682.13 L633.32 685.36 L633.72 688.79 L634.12 692.40 L634.53 696.21 L634.93 700.21 L635.33 704.68 L635.74 709.46 L636.14 714.47 L636.55 719.72 L636.95 725.19 L637.35 730.89 L637.76 737.21 L638.16 744.29 L638.57 751.65 L638.97 759.29 L639.37 767.17 L639.78 774.59 L640.18 782.17 L640.58 789.92 L640.99 797.81 L641.39 805.84 L641.80 816.33 L642.20 827.22 L642.60 838.19 L643.01 847.17 L643.41 855.31 L643.82 863.45 L644.22 871.54 L644.62 879.20 L645.03 885.65 L645.43 892.03 L645.84 898.32 L646.24 904.52 L646.64 910.61 L647.05 916.58 L647.45 922.44 L647.85 928.17 L648.26 933.77 L648.66 939.23 L649.07 944.54 L649.47 949.71 L649.87 954.72 L650.28 959.57 L650.68 964.25 L651.09 968.78 L651.49 973.13 L651.89 977.31 L652.30 981.31 L652.70 985.14 L653.10 988.79 L653.51 992.27 L653.91 995.56 L654.32 998.68 L654.72 1001.62 L655.12 1004.38 L655.53 1006.97 L655.93 1009.39 L656.34 1011.64 L656.74 1013.72 L657.14 1015.64 L657.55 1017.40 L657.95 1019.01 L658.36 1020.47 L658.76 1021.79 L659.16 1022.97 L659.57 1024.01 L659.97 1024.93 L660.37 1025.73 L660.78 1026.43 L661.18 1027.01 L661.59 1027.51 L661.99 1027.91 L662.39 1028.23 L662.80 1028.49 L663.20 1028.68 L663.61 1028.81 L664.01 1028.90 L664.41 1028.96 L664.82 1028.99 L665.22 1029.00 L665.62 1029.00 L666.03 1029.00 L666.43 1028.99 L666.84 1028.96 L667.24 1028.90 L667.64 1028.81 L668.05 1028.68 L668.45 1028.49 L668.86 1028.23 L669.26 1027.91 L669.66 1027.51 L670.07 1027.01 L670.47 1026.43 L670.88 1025.73 L671.28 1024.93 L671.68 1024.01 L672.09 1022.97 L672.49 1021.79 L672.89 1020.47 L673.30 1019.01 L673.70 1017.40 L674.11 1015.64 L674.51 1013.72 L674.91 1011.64 L675.32 1009.39 L675.72 1006.97 L676.13 1004.38 L676.53 1001.62 L676.93 998.68 L677.34 995.56 L677.74 992.27 L678.15 988.79 L678.55 985.14 L678.95 981.31 L679.36 977.31 L679.76 973.13 L680.16 968.78 L680.57 964.25 L680.97 959.57 L681.38 954.72 L681.78 949.71 L682.18 944.54 L682.59 939.23 L682.99 933.77 L683.40 928.17 L683.80 922.44 L684.20 916.58 L684.61 910.61 L685.01 904.52 L685.41 898.32 L685.82 892.03 L686.22 885.65 L686.63 879.20 L687.03 871.54 L687.43 863.45 L687.84 855.31 L688.24 847.17 L688.65 838.19 L689.05 827.22 L689.45 816.33 L689.86 805.84 L690.26 797.81 L690.67 789.92 L691.07 782.17 L691.47 774.59 L691.88 767.17 L692.28 759.29 L692.68 751.65 L693.09 744.29 L693.49 737.21 L693.90 730.89 L694.30 725.19 L694.70 719.72 L695.11 714.47 L695.51 709.46 L695.92 704.68 L696.32 700.21 L696.72 696.21 L697.13 692.40 L697.53 688.79 L697.94 685.36 L698.34 682.13 L698.74 679.08 L699.15 676.23 L699.55 673.56 L699.95 671.08 L700.36 668.79 L700.76 666.67 L701.17 664.82 L701.57 663.14 L701.97 661.61 L702.38 660.22 L702.78 658.97 L703.19 657.87 L703.59 656.91 L703.99 656.10 L704.40 655.44 L704.80 654.92 L705.20 654.55 L705.61 654.33 L706.01 654.26 L706.42 654.33 L706.82 654.55 L707.22 654.92 L707.63 655.44 L708.03 656.10 L708.44 656.91 L708.84 657.87 L709.24 658.97 L709.65 660.22 L710.05 661.61 L710.46 663.14 L710.86 664.82 L711.26 666.67 L711.67 668.79 L712.07 671.08 L712.47 673.56 L712.88 676.23 L713.28 679.08 L713.69 682.13 L714.09 685.36 L714.49 688.79 L714.90 692.40 L715.30 696.21 L715.71 700.21 L716.11 704.68 L716.51 709.46 L716.92 714.47 L717.32 719.72 L717.72 725.19 L718.13 730.89 L718.53 737.21 L718.94 744.29 L719.34 751.65 L719.74 759.29 L720.15 767.17 L720.55 774.59 L720.96 782.17 L721.36 789.92 L721.76 797.81 L722.17 805.84 L722.57 816.33 L722.98 827.22 L723.38 838.19 L723.78 847.17 L724.19 855.31 L724.59 863.45 L724.99 871.54 L725.40 879.20 L725.80 885.65 L726.21 892.03 L726.61 898.32 L727.01 904.52 L727.42 910.61 L727.82 916.58 L728.23 922.44 L728.63 928.17 L729.03 933.77 L729.44 939.23 L729.84 944.54 L730.25 949.71 L730.65 954.72 L731.05 959.57 L731.46 964.25 L731.86 968.78 L732.26 973.13 L732.67 977.31 L733.07 981.31 L733.48 985.14 L733.88 988.79 L734.28 992.27 L734.69 995.56 L735.09 998.68 L735.50 1001.62 L735.90 1004.38 L736.30 1006.97 L736.71 1009.39 L737.11 1011.64 L737.51 1013.72 L737.92 1015.64 L738.32 1017.40 L738.73 1019.01 L739.13 1020.47 L739.53 1021.79 L739.94 1022.97 L740.34 1024.01 L740.75 1024.93 L741.15 1025.73 L741.55 1026.43 L741.96 1027.01 L742.36 1027.51 L742.77 1027.91 L743.17 1028.23 L743.57 1028.49 L743.98 1028.68 L744.38 1028.81 L744.78 1028.90 L745.19 1028.96 L745.59 1028.99 L746.00 1029.00 L746.40 1029.00" stroke="#5e81b5" stroke-width="3.9" fill="none" stroke-linejoin="round" stroke-linecap="butt"/>
<rect x="107.5" y="350.3" width="637.9" height="56.9" rx="10.5" ry="10.5" fill="#fff" stroke="#000" stroke-width="2.2"/>
<path d="M117.9 380.6H204" stroke="#00aa00" stroke-width="4.5"/>
<path d="M331.5 380.9H409.3" stroke="#ff0000" stroke-width="3.9" stroke-dasharray="9.2 8.0"/>
<path d="M543.9 380.8H622" stroke="#000" stroke-width="3.9" stroke-dasharray="2.8 7.94"/>
<g font-weight="bold" font-size="29.5">
<text transform="translate(216.5,388.2) scale(1.0,1.095)">a = 0.0</text>
<text transform="translate(429.6,388.2) scale(1.0,1.095)">a = 0.5</text>
<text transform="translate(641.4,388.2) scale(1.0,1.095)">a = 1.0</text>
</g>
<g font-size="22" stroke="#000" stroke-width="0.25">
<text transform="translate(426.2,474.9) scale(1.0,0.94)" text-anchor="middle"><tspan font-style="italic">t</tspan>(ps)</text>
<text transform="translate(1248.1,476.1) scale(1.0,0.94)" text-anchor="middle"><tspan font-style="italic">t</tspan>(ps)</text>
<text transform="translate(422.7,1111) scale(1.0,0.94)" text-anchor="middle"><tspan font-style="italic">x</tspan>(<tspan font-style="italic">μ</tspan>m)</text>
<text transform="translate(1237,1111) scale(1.0,0.94)" text-anchor="middle"><tspan font-style="italic">t</tspan>(ps)</text>
</g>
<g transform="translate(24.4,278.5) rotate(-90)" font-size="22" stroke="#000" stroke-width="0.25"><text transform="scale(1.053,1)"><tspan font-style="italic">P</tspan>(<tspan font-style="italic">t</tspan>)</text><text transform="translate(36.2,4.62) scale(1,1.775)">(</text><text transform="translate(43.1,0) scale(0.96,1)">10</text><text transform="translate(66.6,-10)" font-size="19.5">3</text><text transform="translate(83.60,0) scale(0.85,1)" font-size="21" font-style="italic">μ</text><text transform="translate(93.50,0) scale(1.15,1)" font-size="20.5">m</text><text transform="translate(112.70,-9.5)" font-size="19.5">−1</text><text transform="translate(136.00,4.62) scale(1,1.775)">)</text></g>
<g transform="translate(846.0,279.8) rotate(-90)" font-size="22" stroke="#000" stroke-width="0.25"><text transform="scale(1.053,1)"><tspan font-style="italic">P</tspan>(<tspan font-style="italic">t</tspan>)</text><text transform="translate(36.2,4.62) scale(1,1.775)">(</text><text transform="translate(43.1,0) scale(0.96,1)">10</text><text transform="translate(66.6,-10)" font-size="19.5">3</text><text transform="translate(83.60,0) scale(0.85,1)" font-size="21" font-style="italic">μ</text><text transform="translate(93.50,0) scale(1.15,1)" font-size="20.5">m</text><text transform="translate(112.70,-9.5)" font-size="19.5">−1</text><text transform="translate(136.00,4.62) scale(1,1.775)">)</text></g>
<g transform="translate(24.4,892.3) rotate(-90)" font-size="22" stroke="#000" stroke-width="0.25"><text transform="scale(1.053,1)"><tspan font-style="italic">P</tspan>(<tspan font-style="italic">t</tspan>)</text><text transform="translate(36.2,4.62) scale(1,1.775)">(</text><text transform="translate(43.30,0) scale(0.85,1)" font-size="21" font-style="italic">μ</text><text transform="translate(53.20,0) scale(1.15,1)" font-size="20.5">m</text><text transform="translate(72.40,-9.5)" font-size="19.5">−1</text><text transform="translate(95.70,4.62) scale(1,1.775)">)</text></g>
<g stroke="#000" stroke-width="0.25">
<text transform="translate(840,852.2) rotate(-90)" font-size="22"><tspan font-style="italic">c</tspan>(<tspan font-style="italic">t</tspan>)</text>
</g>
<g font-family="'Liberation Serif', 'Times New Roman', serif" font-size="44.5">
<text transform="translate(423,535.2) scale(1.0,1.03)" text-anchor="middle">(a)</text>
<text transform="translate(1248.5,535.2) scale(1.0,1.03)" text-anchor="middle">(b)</text>
<text transform="translate(423,1170.2) scale(1.0,1.03)" text-anchor="middle">(c)</text>
<text transform="translate(1235.5,1170.2) scale(1.0,1.03)" text-anchor="middle">(d)</text>
</g>
</svg></body></html>
